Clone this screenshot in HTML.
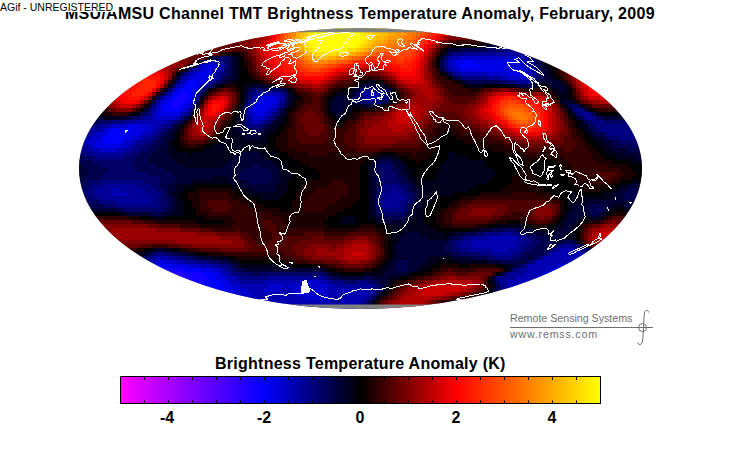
<!DOCTYPE html>
<html><head><meta charset="utf-8"><title>TMT anomaly</title>
<style>
html,body{margin:0;padding:0;background:#fff;}
body{width:730px;height:450px;position:relative;overflow:hidden;font-family:"Liberation Sans",sans-serif;}
.t{position:absolute;white-space:nowrap;line-height:1;color:#000;}
#title{left:65px;top:6px;font-weight:bold;font-size:16px;letter-spacing:0.28px;}
#wm{left:0;top:0;width:115px;height:12px;background:#fff;font-size:10.5px;letter-spacing:0px;}
#wm span{position:absolute;left:0;top:2px;}
#cbl{left:215px;top:355.5px;font-weight:bold;font-size:16px;letter-spacing:0.26px;}
.tk{font-weight:bold;font-size:16px;top:410px;width:40px;text-align:center;}
.rs{color:#6e6e6e;font-size:10.65px;left:510px;}
svg{position:absolute;left:0;top:0;}
</style></head><body>
<svg width="730" height="450" viewBox="0 0 730 450">
<defs>
<clipPath id="el"><ellipse cx="360.5" cy="168.5" rx="281.5" ry="140.5"/></clipPath>
<linearGradient id="cb" x1="0" x2="1" y1="0" y2="0">
<stop offset="0" stop-color="#ff00ff"/><stop offset="0.3" stop-color="#0000ff"/><stop offset="0.5" stop-color="#000000"/><stop offset="0.7" stop-color="#ff0000"/><stop offset="1" stop-color="#ffff00"/>
</linearGradient>
</defs>
<g clip-path="url(#el)">
<rect x="70" y="20" width="590" height="300" fill="#808080"/>
<g shape-rendering="crispEdges">
<path fill="#2200ff" d="M169 272h15v4h-15zM178 276h14v4h-14zM188 280h4v4h-4z"/>
<path fill="#1100ff" d="M180 92h8v4h-8zM176 96h12v4h-12zM172 100h12v4h-12zM172 104h8v4h-8zM160 268h24v4h-24zM184 272h20v4h-20zM192 276h16v4h-16zM192 280h12v4h-12zM199 284h5v4h-5z"/>
<path fill="#0000ff" d="M464 60h8v4h-8zM460 64h20v4h-20zM188 80h8v4h-8zM184 84h12v4h-12zM180 88h12v4h-12zM176 92h4v4h-4zM188 92h4v4h-4zM172 96h4v4h-4zM188 96h4v4h-4zM168 100h4v4h-4zM184 100h4v4h-4zM164 104h8v4h-8zM180 104h4v4h-4zM164 108h16v4h-16zM112 128h20v4h-20zM108 132h20v4h-20zM104 136h20v4h-20zM104 140h16v4h-16zM160 264h12v4h-12zM184 268h16v4h-16zM204 272h8v4h-8zM208 276h8v4h-8zM204 280h16v4h-16zM204 284h20v4h-20zM211 288h17v4h-17zM225 292h3v4h-3z"/>
<path fill="#0000e6" d="M456 60h8v4h-8zM472 60h44v4h-44zM208 64h4v4h-4zM456 64h4v4h-4zM480 64h40v4h-40zM204 68h8v4h-8zM460 68h60v4h-60zM196 72h16v4h-16zM508 72h16v4h-16zM192 76h16v4h-16zM196 80h8v4h-8zM196 84h4v4h-4zM176 88h4v4h-4zM192 88h4v4h-4zM172 92h4v4h-4zM192 92h4v4h-4zM168 96h4v4h-4zM264 96h12v4h-12zM164 100h4v4h-4zM188 100h4v4h-4zM256 100h20v4h-20zM160 104h4v4h-4zM184 104h4v4h-4zM256 104h16v4h-16zM160 108h4v4h-4zM180 108h4v4h-4zM252 108h16v4h-16zM160 112h20v4h-20zM256 112h8v4h-8zM128 124h12v4h-12zM108 128h4v4h-4zM132 128h12v4h-12zM104 132h4v4h-4zM128 132h12v4h-12zM100 136h4v4h-4zM124 136h8v4h-8zM96 140h8v4h-8zM120 140h4v4h-4zM96 144h24v4h-24zM160 260h4v4h-4zM156 264h4v4h-4zM172 264h16v4h-16zM200 268h12v4h-12zM212 272h8v4h-8zM216 276h8v4h-8zM220 280h8v4h-8zM224 284h8v4h-8zM228 288h8v4h-8zM316 288h4v4h-4zM228 292h8v4h-8z"/>
<path fill="#0000cc" d="M460 56h56v4h-56zM452 60h4v4h-4zM516 60h8v4h-8zM200 64h8v4h-8zM212 64h4v4h-4zM452 64h4v4h-4zM520 64h4v4h-4zM200 68h4v4h-4zM212 68h4v4h-4zM456 68h4v4h-4zM520 68h8v4h-8zM192 72h4v4h-4zM212 72h4v4h-4zM488 72h20v4h-20zM524 72h4v4h-4zM188 76h4v4h-4zM208 76h4v4h-4zM508 76h20v4h-20zM184 80h4v4h-4zM204 80h4v4h-4zM180 84h4v4h-4zM196 88h4v4h-4zM164 96h4v4h-4zM192 96h4v4h-4zM256 96h8v4h-8zM276 96h4v4h-4zM160 100h4v4h-4zM276 100h4v4h-4zM188 104h4v4h-4zM252 104h4v4h-4zM272 104h4v4h-4zM156 108h4v4h-4zM184 108h4v4h-4zM268 108h4v4h-4zM156 112h4v4h-4zM252 112h4v4h-4zM264 112h4v4h-4zM156 116h20v4h-20zM252 116h12v4h-12zM112 124h16v4h-16zM140 124h12v4h-12zM104 128h4v4h-4zM144 128h8v4h-8zM96 132h8v4h-8zM140 132h4v4h-4zM92 136h8v4h-8zM132 136h8v4h-8zM88 140h8v4h-8zM124 140h8v4h-8zM92 144h4v4h-4zM120 144h8v4h-8zM100 148h16v4h-16zM156 260h4v4h-4zM164 260h12v4h-12zM153 264h3v4h-3zM188 264h12v4h-12zM556 264h12v4h-12zM212 268h8v4h-8zM548 268h13v4h-13zM220 272h4v4h-4zM544 272h8v4h-8zM224 276h4v4h-4zM536 276h7v4h-7zM228 280h4v4h-4zM304 280h16v4h-16zM524 280h9v4h-9zM232 284h8v4h-8zM268 284h16v4h-16zM288 284h40v4h-40zM516 284h6v4h-6zM236 288h12v4h-12zM264 288h16v4h-16zM292 288h24v4h-24zM320 288h8v4h-8zM236 292h16v4h-16zM296 292h32v4h-32zM241 296h11v4h-11zM304 296h20v4h-20z"/>
<path fill="#0000b2" d="M508 52h4v4h-4zM452 56h8v4h-8zM516 56h8v4h-8zM208 60h8v4h-8zM448 60h4v4h-4zM524 60h4v4h-4zM216 64h4v4h-4zM448 64h4v4h-4zM524 64h4v4h-4zM196 68h4v4h-4zM216 68h4v4h-4zM452 68h4v4h-4zM528 68h4v4h-4zM188 72h4v4h-4zM460 72h28v4h-28zM528 72h4v4h-4zM184 76h4v4h-4zM212 76h4v4h-4zM500 76h8v4h-8zM528 76h4v4h-4zM180 80h4v4h-4zM208 80h4v4h-4zM176 84h4v4h-4zM200 84h4v4h-4zM172 88h4v4h-4zM168 92h4v4h-4zM260 92h20v4h-20zM368 92h8v4h-8zM280 96h4v4h-4zM372 96h4v4h-4zM192 100h4v4h-4zM252 100h4v4h-4zM156 104h4v4h-4zM276 104h4v4h-4zM248 108h4v4h-4zM272 108h4v4h-4zM152 112h4v4h-4zM180 112h4v4h-4zM248 112h4v4h-4zM268 112h4v4h-4zM152 116h4v4h-4zM176 116h4v4h-4zM264 116h4v4h-4zM136 120h32v4h-32zM252 120h8v4h-8zM108 124h4v4h-4zM152 124h8v4h-8zM100 128h4v4h-4zM152 128h4v4h-4zM92 132h4v4h-4zM144 132h8v4h-8zM84 136h8v4h-8zM140 136h4v4h-4zM84 140h4v4h-4zM132 140h4v4h-4zM88 144h4v4h-4zM128 144h4v4h-4zM92 148h8v4h-8zM116 148h8v4h-8zM112 188h8v4h-8zM112 192h16v4h-16zM488 236h28v4h-28zM472 240h44v4h-44zM472 244h44v4h-44zM492 248h16v4h-16zM560 248h16v4h-16zM552 252h32v4h-32zM156 256h12v4h-12zM544 256h38v4h-38zM152 260h4v4h-4zM176 260h8v4h-8zM536 260h40v4h-40zM200 264h12v4h-12zM528 264h28v4h-28zM220 268h4v4h-4zM528 268h20v4h-20zM224 272h4v4h-4zM524 272h20v4h-20zM228 276h8v4h-8zM516 276h20v4h-20zM232 280h8v4h-8zM264 280h40v4h-40zM320 280h8v4h-8zM508 280h16v4h-16zM240 284h28v4h-28zM284 284h4v4h-4zM328 284h8v4h-8zM508 284h8v4h-8zM248 288h16v4h-16zM280 288h12v4h-12zM328 288h40v4h-40zM508 288h2v4h-2zM252 292h44v4h-44zM328 292h40v4h-40zM252 296h52v4h-52zM324 296h8v4h-8zM340 296h24v4h-24zM260 300h72v4h-72zM340 300h20v4h-20zM288 304h44v4h-44zM340 304h16v4h-16zM325 308h7v4h-7zM340 308h16v4h-16z"/>
<path fill="#000099" d="M464 52h44v4h-44zM512 52h12v4h-12zM448 56h4v4h-4zM524 56h4v4h-4zM216 60h4v4h-4zM528 60h4v4h-4zM220 64h4v4h-4zM528 64h4v4h-4zM192 68h4v4h-4zM220 68h4v4h-4zM448 68h4v4h-4zM532 68h4v4h-4zM216 72h4v4h-4zM456 72h4v4h-4zM532 72h4v4h-4zM216 76h4v4h-4zM488 76h12v4h-12zM532 76h4v4h-4zM516 80h16v4h-16zM204 84h4v4h-4zM196 92h4v4h-4zM256 92h4v4h-4zM280 92h4v4h-4zM364 92h4v4h-4zM376 92h8v4h-8zM160 96h4v4h-4zM252 96h4v4h-4zM364 96h8v4h-8zM376 96h8v4h-8zM156 100h4v4h-4zM280 100h4v4h-4zM248 104h4v4h-4zM152 108h4v4h-4zM188 108h4v4h-4zM184 112h4v4h-4zM584 112h4v4h-4zM144 116h8v4h-8zM248 116h4v4h-4zM588 116h4v4h-4zM124 120h12v4h-12zM168 120h4v4h-4zM248 120h4v4h-4zM260 120h4v4h-4zM100 124h8v4h-8zM160 124h4v4h-4zM88 128h12v4h-12zM156 128h4v4h-4zM85 132h7v4h-7zM152 132h4v4h-4zM83 136h1v4h-1zM144 136h8v4h-8zM82 140h2v4h-2zM136 140h8v4h-8zM81 144h7v4h-7zM132 144h4v4h-4zM84 148h8v4h-8zM124 148h8v4h-8zM92 152h32v4h-32zM104 184h32v4h-32zM96 188h16v4h-16zM120 188h24v4h-24zM392 188h4v4h-4zM96 192h16v4h-16zM128 192h20v4h-20zM388 192h12v4h-12zM100 196h52v4h-52zM384 196h20v4h-20zM116 200h36v4h-36zM384 200h16v4h-16zM384 204h16v4h-16zM500 232h12v4h-12zM472 236h16v4h-16zM516 236h8v4h-8zM464 240h8v4h-8zM516 240h8v4h-8zM460 244h12v4h-12zM516 244h4v4h-4zM564 244h8v4h-8zM468 248h24v4h-24zM508 248h12v4h-12zM556 248h4v4h-4zM576 248h4v4h-4zM492 252h20v4h-20zM548 252h4v4h-4zM584 252h4v4h-4zM152 256h4v4h-4zM168 256h8v4h-8zM148 260h4v4h-4zM184 260h12v4h-12zM212 264h8v4h-8zM224 268h4v4h-4zM520 268h8v4h-8zM228 272h4v4h-4zM508 272h16v4h-16zM236 276h4v4h-4zM268 276h56v4h-56zM504 276h12v4h-12zM240 280h24v4h-24zM328 280h4v4h-4zM500 280h8v4h-8zM336 284h36v4h-36zM504 284h4v4h-4zM368 288h4v4h-4zM504 288h4v4h-4zM368 292h4v4h-4zM332 296h8v4h-8zM364 296h4v4h-4zM332 300h8v4h-8zM360 300h4v4h-4zM285 304h3v4h-3zM332 304h8v4h-8zM356 304h4v4h-4zM332 308h8v4h-8zM356 308h4v4h-4z"/>
<path fill="#000080" d="M504 48h15v4h-15zM452 52h12v4h-12zM524 52h4v4h-4zM528 56h4v4h-4zM204 60h4v4h-4zM220 60h4v4h-4zM444 60h4v4h-4zM532 60h4v4h-4zM196 64h4v4h-4zM224 64h4v4h-4zM444 64h4v4h-4zM532 64h4v4h-4zM184 72h4v4h-4zM220 72h4v4h-4zM452 72h4v4h-4zM180 76h4v4h-4zM464 76h24v4h-24zM212 80h4v4h-4zM508 80h8v4h-8zM200 88h4v4h-4zM364 88h16v4h-16zM164 92h4v4h-4zM252 92h4v4h-4zM360 92h4v4h-4zM384 92h4v4h-4zM196 96h4v4h-4zM360 96h4v4h-4zM384 96h4v4h-4zM248 100h4v4h-4zM368 100h12v4h-12zM152 104h4v4h-4zM192 104h4v4h-4zM280 104h4v4h-4zM276 108h4v4h-4zM576 108h8v4h-8zM148 112h4v4h-4zM272 112h4v4h-4zM580 112h4v4h-4zM588 112h4v4h-4zM140 116h4v4h-4zM180 116h4v4h-4zM268 116h4v4h-4zM584 116h4v4h-4zM592 116h4v4h-4zM112 120h12v4h-12zM172 120h4v4h-4zM264 120h4v4h-4zM592 120h12v4h-12zM89 124h11v4h-11zM164 124h8v4h-8zM248 124h12v4h-12zM596 124h36v4h-36zM87 128h1v4h-1zM160 128h4v4h-4zM600 128h34v4h-34zM156 132h4v4h-4zM608 132h28v4h-28zM152 136h4v4h-4zM620 136h18v4h-18zM144 140h8v4h-8zM136 144h8v4h-8zM79 148h5v4h-5zM132 148h8v4h-8zM84 152h8v4h-8zM124 152h8v4h-8zM96 156h28v4h-28zM100 180h44v4h-44zM92 184h12v4h-12zM136 184h16v4h-16zM384 184h16v4h-16zM88 188h8v4h-8zM144 188h12v4h-12zM384 188h8v4h-8zM396 188h8v4h-8zM88 192h8v4h-8zM148 192h12v4h-12zM380 192h8v4h-8zM400 192h8v4h-8zM92 196h8v4h-8zM152 196h8v4h-8zM380 196h4v4h-4zM404 196h4v4h-4zM100 200h16v4h-16zM152 200h8v4h-8zM380 200h4v4h-4zM400 200h8v4h-8zM116 204h44v4h-44zM380 204h4v4h-4zM400 204h4v4h-4zM384 208h20v4h-20zM484 232h16v4h-16zM512 232h8v4h-8zM464 236h8v4h-8zM524 236h4v4h-4zM456 240h8v4h-8zM524 240h8v4h-8zM456 244h4v4h-4zM520 244h8v4h-8zM560 244h4v4h-4zM572 244h4v4h-4zM460 248h8v4h-8zM520 248h4v4h-4zM552 248h4v4h-4zM580 248h4v4h-4zM156 252h8v4h-8zM480 252h12v4h-12zM512 252h8v4h-8zM148 256h4v4h-4zM176 256h8v4h-8zM496 256h16v4h-16zM540 256h4v4h-4zM196 260h12v4h-12zM532 260h4v4h-4zM220 264h8v4h-8zM524 264h4v4h-4zM228 268h4v4h-4zM516 268h4v4h-4zM232 272h8v4h-8zM240 276h28v4h-28zM324 276h4v4h-4zM496 276h8v4h-8zM332 280h12v4h-12zM356 280h12v4h-12zM372 284h4v4h-4zM500 284h4v4h-4zM372 288h4v4h-4zM500 288h4v4h-4zM372 292h4v4h-4zM368 296h4v4h-4zM364 300h4v4h-4zM360 304h4v4h-4zM360 308h4v4h-4z"/>
<path fill="#000066" d="M488 48h16v4h-16zM448 52h4v4h-4zM528 52h3v4h-3zM220 56h8v4h-8zM444 56h4v4h-4zM532 56h4v4h-4zM224 60h4v4h-4zM536 64h4v4h-4zM188 68h4v4h-4zM224 68h4v4h-4zM444 68h4v4h-4zM536 68h4v4h-4zM224 72h4v4h-4zM536 72h4v4h-4zM220 76h4v4h-4zM460 76h4v4h-4zM536 76h4v4h-4zM176 80h4v4h-4zM216 80h4v4h-4zM500 80h8v4h-8zM532 80h4v4h-4zM172 84h4v4h-4zM208 84h4v4h-4zM168 88h4v4h-4zM252 88h28v4h-28zM360 88h4v4h-4zM380 88h4v4h-4zM248 92h4v4h-4zM284 92h4v4h-4zM356 92h4v4h-4zM248 96h4v4h-4zM284 96h4v4h-4zM356 96h4v4h-4zM284 100h4v4h-4zM360 100h8v4h-8zM380 100h4v4h-4zM244 104h4v4h-4zM572 104h4v4h-4zM148 108h4v4h-4zM244 108h4v4h-4zM572 108h4v4h-4zM144 112h4v4h-4zM188 112h4v4h-4zM244 112h4v4h-4zM276 112h4v4h-4zM576 112h4v4h-4zM132 116h8v4h-8zM244 116h4v4h-4zM272 116h4v4h-4zM596 116h4v4h-4zM100 120h12v4h-12zM176 120h4v4h-4zM244 120h4v4h-4zM268 120h4v4h-4zM588 120h4v4h-4zM604 120h25v4h-25zM244 124h4v4h-4zM260 124h4v4h-4zM592 124h4v4h-4zM164 128h4v4h-4zM252 128h8v4h-8zM596 128h4v4h-4zM160 132h4v4h-4zM604 132h4v4h-4zM156 136h4v4h-4zM608 136h12v4h-12zM152 140h4v4h-4zM620 140h19v4h-19zM144 144h8v4h-8zM632 144h8v4h-8zM140 148h8v4h-8zM79 152h5v4h-5zM132 152h8v4h-8zM84 156h12v4h-12zM124 156h12v4h-12zM92 160h40v4h-40zM100 164h32v4h-32zM380 164h12v4h-12zM108 168h28v4h-28zM380 168h12v4h-12zM104 172h44v4h-44zM380 172h16v4h-16zM100 176h60v4h-60zM380 176h16v4h-16zM88 180h12v4h-12zM144 180h16v4h-16zM380 180h20v4h-20zM84 184h8v4h-8zM152 184h8v4h-8zM380 184h4v4h-4zM400 184h8v4h-8zM80 188h8v4h-8zM156 188h8v4h-8zM380 188h4v4h-4zM404 188h4v4h-4zM81 192h7v4h-7zM160 192h4v4h-4zM408 192h4v4h-4zM84 196h8v4h-8zM160 196h4v4h-4zM376 196h4v4h-4zM408 196h4v4h-4zM88 200h12v4h-12zM160 200h8v4h-8zM376 200h4v4h-4zM408 200h4v4h-4zM104 204h12v4h-12zM160 204h8v4h-8zM376 204h4v4h-4zM404 204h4v4h-4zM124 208h40v4h-40zM380 208h4v4h-4zM404 208h4v4h-4zM596 208h4v4h-4zM384 212h20v4h-20zM504 228h12v4h-12zM476 232h8v4h-8zM520 232h8v4h-8zM460 236h4v4h-4zM528 236h8v4h-8zM452 240h4v4h-4zM532 240h8v4h-8zM452 244h4v4h-4zM528 244h8v4h-8zM556 244h4v4h-4zM576 244h4v4h-4zM452 248h8v4h-8zM524 248h8v4h-8zM584 248h4v4h-4zM152 252h4v4h-4zM164 252h8v4h-8zM460 252h20v4h-20zM520 252h4v4h-4zM544 252h4v4h-4zM144 256h4v4h-4zM184 256h8v4h-8zM488 256h8v4h-8zM512 256h8v4h-8zM536 256h4v4h-4zM145 260h3v4h-3zM208 260h12v4h-12zM528 260h4v4h-4zM228 264h4v4h-4zM520 264h4v4h-4zM232 268h4v4h-4zM512 268h4v4h-4zM240 272h12v4h-12zM260 272h64v4h-64zM504 272h4v4h-4zM328 276h4v4h-4zM344 280h12v4h-12zM368 280h8v4h-8zM496 280h4v4h-4zM376 284h4v4h-4zM376 288h4v4h-4zM364 304h4v4h-4zM364 308h4v4h-4z"/>
<path fill="#00004c" d="M496 44h11v4h-11zM460 48h28v4h-28zM216 56h4v4h-4zM228 56h4v4h-4zM228 60h4v4h-4zM440 60h4v4h-4zM536 60h4v4h-4zM228 64h4v4h-4zM440 64h4v4h-4zM228 68h4v4h-4zM540 68h4v4h-4zM180 72h4v4h-4zM228 72h4v4h-4zM448 72h4v4h-4zM540 72h4v4h-4zM224 76h4v4h-4zM456 76h4v4h-4zM540 76h4v4h-4zM220 80h4v4h-4zM468 80h32v4h-32zM536 80h4v4h-4zM212 84h4v4h-4zM364 84h16v4h-16zM520 84h12v4h-12zM204 88h4v4h-4zM248 88h4v4h-4zM280 88h4v4h-4zM384 88h4v4h-4zM200 92h4v4h-4zM388 92h4v4h-4zM156 96h4v4h-4zM352 96h4v4h-4zM388 96h4v4h-4zM152 100h4v4h-4zM196 100h4v4h-4zM244 100h4v4h-4zM356 100h4v4h-4zM384 100h4v4h-4zM284 104h4v4h-4zM568 104h4v4h-4zM576 104h4v4h-4zM192 108h4v4h-4zM280 108h4v4h-4zM584 108h4v4h-4zM140 112h4v4h-4zM592 112h4v4h-4zM128 116h4v4h-4zM184 116h4v4h-4zM580 116h4v4h-4zM600 116h4v4h-4zM92 120h8v4h-8zM180 120h4v4h-4zM584 120h4v4h-4zM172 124h4v4h-4zM264 124h4v4h-4zM588 124h4v4h-4zM168 128h4v4h-4zM244 128h8v4h-8zM260 128h4v4h-4zM592 128h4v4h-4zM164 132h4v4h-4zM252 132h4v4h-4zM596 132h8v4h-8zM160 136h4v4h-4zM604 136h4v4h-4zM156 140h8v4h-8zM612 140h8v4h-8zM152 144h8v4h-8zM616 144h16v4h-16zM148 148h8v4h-8zM628 148h14v4h-14zM140 152h12v4h-12zM78 156h6v4h-6zM136 156h12v4h-12zM78 160h14v4h-14zM132 160h16v4h-16zM380 160h12v4h-12zM84 164h16v4h-16zM132 164h24v4h-24zM252 164h8v4h-8zM376 164h4v4h-4zM392 164h4v4h-4zM88 168h20v4h-20zM136 168h28v4h-28zM244 168h24v4h-24zM376 168h4v4h-4zM392 168h8v4h-8zM88 172h16v4h-16zM148 172h24v4h-24zM240 172h32v4h-32zM376 172h4v4h-4zM396 172h4v4h-4zM84 176h16v4h-16zM160 176h16v4h-16zM240 176h32v4h-32zM376 176h4v4h-4zM396 176h8v4h-8zM78 180h10v4h-10zM160 180h12v4h-12zM248 180h20v4h-20zM376 180h4v4h-4zM400 180h8v4h-8zM79 184h5v4h-5zM160 184h8v4h-8zM376 184h4v4h-4zM408 184h4v4h-4zM164 188h4v4h-4zM376 188h4v4h-4zM408 188h4v4h-4zM628 188h13v4h-13zM164 192h4v4h-4zM376 192h4v4h-4zM412 192h4v4h-4zM624 192h16v4h-16zM83 196h1v4h-1zM164 196h8v4h-8zM412 196h4v4h-4zM624 196h14v4h-14zM85 200h3v4h-3zM168 200h4v4h-4zM412 200h4v4h-4zM87 204h17v4h-17zM168 204h4v4h-4zM408 204h4v4h-4zM592 204h12v4h-12zM116 208h8v4h-8zM164 208h4v4h-4zM376 208h4v4h-4zM408 208h4v4h-4zM588 208h8v4h-8zM600 208h4v4h-4zM152 212h8v4h-8zM376 212h8v4h-8zM404 212h4v4h-4zM592 212h8v4h-8zM384 216h20v4h-20zM492 228h12v4h-12zM516 228h8v4h-8zM464 232h12v4h-12zM528 232h8v4h-8zM452 236h8v4h-8zM536 236h12v4h-12zM448 240h4v4h-4zM540 240h12v4h-12zM560 240h16v4h-16zM444 244h8v4h-8zM536 244h20v4h-20zM580 244h4v4h-4zM444 248h8v4h-8zM532 248h20v4h-20zM588 248h4v4h-4zM148 252h4v4h-4zM172 252h8v4h-8zM452 252h8v4h-8zM524 252h20v4h-20zM140 256h4v4h-4zM192 256h8v4h-8zM472 256h16v4h-16zM520 256h8v4h-8zM532 256h4v4h-4zM220 260h8v4h-8zM400 260h8v4h-8zM500 260h20v4h-20zM524 260h4v4h-4zM232 264h4v4h-4zM396 264h12v4h-12zM516 264h4v4h-4zM236 268h8v4h-8zM396 268h12v4h-12zM252 272h8v4h-8zM324 272h4v4h-4zM332 276h8v4h-8zM364 276h8v4h-8zM376 280h4v4h-4zM380 284h4v4h-4zM496 284h4v4h-4zM380 288h4v4h-4zM496 288h4v4h-4zM376 292h4v4h-4zM372 296h4v4h-4zM368 300h4v4h-4zM368 304h4v4h-4zM368 308h4v4h-4z"/>
<path fill="#000033" d="M488 44h8v4h-8zM448 48h12v4h-12zM444 52h4v4h-4zM212 56h4v4h-4zM232 56h4v4h-4zM440 56h4v4h-4zM536 56h4v4h-4zM200 60h4v4h-4zM232 60h4v4h-4zM540 60h4v4h-4zM192 64h4v4h-4zM232 64h4v4h-4zM540 64h4v4h-4zM232 68h4v4h-4zM440 68h4v4h-4zM544 68h4v4h-4zM232 72h4v4h-4zM544 72h4v4h-4zM176 76h4v4h-4zM228 76h8v4h-8zM452 76h4v4h-4zM544 76h8v4h-8zM224 80h4v4h-4zM464 80h4v4h-4zM540 80h20v4h-20zM252 84h12v4h-12zM360 84h4v4h-4zM380 84h4v4h-4zM516 84h4v4h-4zM532 84h4v4h-4zM552 84h12v4h-12zM284 88h4v4h-4zM356 88h4v4h-4zM388 88h4v4h-4zM560 88h4v4h-4zM160 92h4v4h-4zM244 92h4v4h-4zM288 92h4v4h-4zM352 92h4v4h-4zM244 96h4v4h-4zM288 96h4v4h-4zM336 96h16v4h-16zM288 100h4v4h-4zM332 100h24v4h-24zM564 100h8v4h-8zM148 104h4v4h-4zM332 104h16v4h-16zM364 104h16v4h-16zM144 108h4v4h-4zM240 108h4v4h-4zM332 108h12v4h-12zM240 112h4v4h-4zM280 112h4v4h-4zM336 112h4v4h-4zM572 112h4v4h-4zM95 116h9v4h-9zM120 116h8v4h-8zM240 116h4v4h-4zM276 116h4v4h-4zM576 116h4v4h-4zM604 116h22v4h-22zM240 120h4v4h-4zM272 120h4v4h-4zM176 124h4v4h-4zM240 124h4v4h-4zM268 124h4v4h-4zM172 128h4v4h-4zM236 128h8v4h-8zM264 128h4v4h-4zM588 128h4v4h-4zM168 132h4v4h-4zM240 132h12v4h-12zM256 132h8v4h-8zM592 132h4v4h-4zM164 136h8v4h-8zM244 136h16v4h-16zM596 136h8v4h-8zM164 140h4v4h-4zM604 140h8v4h-8zM160 144h8v4h-8zM608 144h8v4h-8zM156 148h12v4h-12zM612 148h16v4h-16zM152 152h16v4h-16zM240 152h20v4h-20zM624 152h18v4h-18zM148 156h24v4h-24zM232 156h32v4h-32zM380 156h12v4h-12zM636 156h7v4h-7zM148 160h28v4h-28zM228 160h44v4h-44zM376 160h4v4h-4zM392 160h8v4h-8zM78 164h6v4h-6zM156 164h28v4h-28zM224 164h28v4h-28zM260 164h16v4h-16zM372 164h4v4h-4zM396 164h8v4h-8zM78 168h10v4h-10zM164 168h80v4h-80zM268 168h12v4h-12zM372 168h4v4h-4zM400 168h4v4h-4zM78 172h10v4h-10zM172 172h68v4h-68zM272 172h8v4h-8zM372 172h4v4h-4zM400 172h8v4h-8zM78 176h6v4h-6zM176 176h36v4h-36zM228 176h12v4h-12zM272 176h8v4h-8zM372 176h4v4h-4zM404 176h4v4h-4zM172 180h20v4h-20zM232 180h16v4h-16zM268 180h12v4h-12zM372 180h4v4h-4zM408 180h4v4h-4zM168 184h8v4h-8zM240 184h36v4h-36zM372 184h4v4h-4zM412 184h4v4h-4zM628 184h14v4h-14zM168 188h8v4h-8zM252 188h24v4h-24zM372 188h4v4h-4zM412 188h8v4h-8zM620 188h8v4h-8zM168 192h4v4h-4zM372 192h4v4h-4zM416 192h4v4h-4zM616 192h8v4h-8zM172 196h4v4h-4zM372 196h4v4h-4zM416 196h4v4h-4zM612 196h12v4h-12zM172 200h4v4h-4zM372 200h4v4h-4zM416 200h4v4h-4zM588 200h48v4h-48zM172 204h4v4h-4zM372 204h4v4h-4zM412 204h8v4h-8zM572 204h20v4h-20zM604 204h8v4h-8zM624 204h10v4h-10zM92 208h24v4h-24zM168 208h8v4h-8zM372 208h4v4h-4zM412 208h4v4h-4zM572 208h16v4h-16zM604 208h4v4h-4zM128 212h24v4h-24zM160 212h12v4h-12zM372 212h4v4h-4zM408 212h8v4h-8zM568 212h24v4h-24zM600 212h4v4h-4zM376 216h8v4h-8zM404 216h8v4h-8zM568 216h12v4h-12zM592 216h4v4h-4zM384 220h24v4h-24zM564 220h12v4h-12zM564 224h8v4h-8zM480 228h12v4h-12zM524 228h8v4h-8zM556 228h16v4h-16zM404 232h16v4h-16zM456 232h8v4h-8zM536 232h32v4h-32zM400 236h28v4h-28zM448 236h4v4h-4zM548 236h20v4h-20zM400 240h48v4h-48zM552 240h8v4h-8zM396 244h48v4h-48zM156 248h8v4h-8zM396 248h48v4h-48zM144 252h4v4h-4zM180 252h8v4h-8zM396 252h56v4h-56zM139 256h1v4h-1zM200 256h12v4h-12zM396 256h32v4h-32zM452 256h20v4h-20zM528 256h4v4h-4zM228 260h4v4h-4zM392 260h8v4h-8zM408 260h16v4h-16zM488 260h12v4h-12zM520 260h4v4h-4zM236 264h4v4h-4zM392 264h4v4h-4zM408 264h12v4h-12zM512 264h4v4h-4zM244 268h80v4h-80zM388 268h8v4h-8zM408 268h8v4h-8zM508 268h4v4h-4zM328 272h4v4h-4zM384 272h24v4h-24zM500 272h4v4h-4zM340 276h24v4h-24zM372 276h16v4h-16zM492 276h4v4h-4zM380 280h8v4h-8zM492 280h4v4h-4zM384 284h4v4h-4zM492 288h4v4h-4zM492 292h4v4h-4z"/>
<path fill="#00001a" d="M480 44h8v4h-8zM236 56h4v4h-4zM540 56h1v4h-1zM236 60h4v4h-4zM236 64h4v4h-4zM544 64h4v4h-4zM184 68h4v4h-4zM236 68h4v4h-4zM548 68h4v4h-4zM236 72h4v4h-4zM444 72h4v4h-4zM548 72h4v4h-4zM236 76h4v4h-4zM552 76h4v4h-4zM172 80h4v4h-4zM228 80h8v4h-8zM368 80h8v4h-8zM460 80h4v4h-4zM560 80h4v4h-4zM168 84h4v4h-4zM216 84h4v4h-4zM244 84h8v4h-8zM264 84h8v4h-8zM356 84h4v4h-4zM384 84h4v4h-4zM468 84h16v4h-16zM508 84h8v4h-8zM536 84h4v4h-4zM548 84h4v4h-4zM564 84h4v4h-4zM164 88h4v4h-4zM208 88h4v4h-4zM244 88h4v4h-4zM352 88h4v4h-4zM552 88h8v4h-8zM564 88h4v4h-4zM336 92h16v4h-16zM392 92h4v4h-4zM556 92h12v4h-12zM200 96h4v4h-4zM292 96h4v4h-4zM332 96h4v4h-4zM392 96h4v4h-4zM560 96h8v4h-8zM328 100h4v4h-4zM388 100h4v4h-4zM560 100h4v4h-4zM572 100h4v4h-4zM196 104h4v4h-4zM240 104h4v4h-4zM288 104h4v4h-4zM328 104h4v4h-4zM348 104h16v4h-16zM380 104h4v4h-4zM564 104h4v4h-4zM580 104h4v4h-4zM284 108h4v4h-4zM328 108h4v4h-4zM344 108h8v4h-8zM568 108h4v4h-4zM588 108h4v4h-4zM98 112h2v4h-2zM136 112h4v4h-4zM192 112h4v4h-4zM284 112h4v4h-4zM332 112h4v4h-4zM340 112h8v4h-8zM596 112h4v4h-4zM620 112h3v4h-3zM104 116h16v4h-16zM188 116h4v4h-4zM236 116h4v4h-4zM280 116h4v4h-4zM336 116h8v4h-8zM184 120h4v4h-4zM236 120h4v4h-4zM276 120h8v4h-8zM580 120h4v4h-4zM232 124h8v4h-8zM272 124h8v4h-8zM580 124h8v4h-8zM176 128h4v4h-4zM228 128h8v4h-8zM268 128h8v4h-8zM584 128h4v4h-4zM172 132h4v4h-4zM228 132h12v4h-12zM264 132h8v4h-8zM588 132h4v4h-4zM172 136h4v4h-4zM224 136h20v4h-20zM260 136h8v4h-8zM592 136h4v4h-4zM168 140h4v4h-4zM220 140h48v4h-48zM596 140h8v4h-8zM168 144h4v4h-4zM212 144h52v4h-52zM600 144h8v4h-8zM168 148h8v4h-8zM204 148h64v4h-64zM604 148h8v4h-8zM168 152h20v4h-20zM192 152h48v4h-48zM260 152h16v4h-16zM448 152h8v4h-8zM608 152h16v4h-16zM172 156h60v4h-60zM264 156h16v4h-16zM376 156h4v4h-4zM392 156h8v4h-8zM448 156h20v4h-20zM616 156h20v4h-20zM176 160h52v4h-52zM272 160h12v4h-12zM372 160h4v4h-4zM400 160h4v4h-4zM444 160h40v4h-40zM632 160h11v4h-11zM184 164h40v4h-40zM276 164h12v4h-12zM368 164h4v4h-4zM404 164h4v4h-4zM440 164h48v4h-48zM280 168h8v4h-8zM368 168h4v4h-4zM404 168h8v4h-8zM440 168h52v4h-52zM280 172h12v4h-12zM368 172h4v4h-4zM408 172h4v4h-4zM436 172h60v4h-60zM212 176h16v4h-16zM280 176h12v4h-12zM368 176h4v4h-4zM408 176h8v4h-8zM436 176h56v4h-56zM192 180h40v4h-40zM280 180h8v4h-8zM368 180h4v4h-4zM412 180h76v4h-76zM632 180h11v4h-11zM176 184h16v4h-16zM232 184h8v4h-8zM276 184h12v4h-12zM368 184h4v4h-4zM416 184h60v4h-60zM620 184h8v4h-8zM176 188h8v4h-8zM240 188h12v4h-12zM276 188h12v4h-12zM368 188h4v4h-4zM420 188h48v4h-48zM612 188h8v4h-8zM172 192h8v4h-8zM248 192h36v4h-36zM368 192h4v4h-4zM420 192h32v4h-32zM568 192h8v4h-8zM604 192h12v4h-12zM176 196h4v4h-4zM260 196h20v4h-20zM368 196h4v4h-4zM420 196h16v4h-16zM568 196h44v4h-44zM176 200h8v4h-8zM368 200h4v4h-4zM420 200h12v4h-12zM568 200h20v4h-20zM176 204h8v4h-8zM368 204h4v4h-4zM420 204h8v4h-8zM568 204h4v4h-4zM612 204h12v4h-12zM89 208h3v4h-3zM176 208h8v4h-8zM368 208h4v4h-4zM416 208h8v4h-8zM568 208h4v4h-4zM608 208h8v4h-8zM624 208h8v4h-8zM120 212h8v4h-8zM172 212h12v4h-12zM368 212h4v4h-4zM416 212h8v4h-8zM564 212h4v4h-4zM604 212h4v4h-4zM152 216h16v4h-16zM344 216h12v4h-12zM368 216h8v4h-8zM412 216h12v4h-12zM564 216h4v4h-4zM580 216h12v4h-12zM596 216h8v4h-8zM340 220h16v4h-16zM376 220h8v4h-8zM408 220h16v4h-16zM560 220h4v4h-4zM576 220h4v4h-4zM388 224h40v4h-40zM496 224h28v4h-28zM556 224h8v4h-8zM572 224h8v4h-8zM392 228h44v4h-44zM472 228h8v4h-8zM532 228h24v4h-24zM572 228h4v4h-4zM392 232h12v4h-12zM420 232h24v4h-24zM448 232h8v4h-8zM568 232h8v4h-8zM392 236h8v4h-8zM428 236h20v4h-20zM568 236h8v4h-8zM392 240h8v4h-8zM576 240h4v4h-4zM392 244h4v4h-4zM584 244h4v4h-4zM152 248h4v4h-4zM164 248h8v4h-8zM392 248h4v4h-4zM592 248h2v4h-2zM136 252h8v4h-8zM188 252h8v4h-8zM392 252h4v4h-4zM212 256h16v4h-16zM392 256h4v4h-4zM428 256h24v4h-24zM232 260h8v4h-8zM388 260h4v4h-4zM424 260h12v4h-12zM456 260h32v4h-32zM240 264h52v4h-52zM384 264h8v4h-8zM420 264h12v4h-12zM504 264h8v4h-8zM324 268h4v4h-4zM380 268h8v4h-8zM416 268h8v4h-8zM332 272h8v4h-8zM364 272h20v4h-20zM408 272h4v4h-4zM388 276h12v4h-12zM388 280h4v4h-4zM492 284h4v4h-4zM384 288h4v4h-4zM380 292h4v4h-4zM488 292h4v4h-4zM376 296h4v4h-4zM372 300h4v4h-4z"/>
<path fill="#000000" d="M488 40h4v4h-4zM452 44h28v4h-28zM444 48h4v4h-4zM228 52h12v4h-12zM440 52h4v4h-4zM208 56h4v4h-4zM240 56h4v4h-4zM436 56h4v4h-4zM240 60h4v4h-4zM436 60h4v4h-4zM544 60h4v4h-4zM240 64h4v4h-4zM436 64h4v4h-4zM548 64h4v4h-4zM240 68h8v4h-8zM552 68h4v4h-4zM176 72h4v4h-4zM240 72h8v4h-8zM440 72h4v4h-4zM552 72h4v4h-4zM240 76h12v4h-12zM448 76h4v4h-4zM556 76h4v4h-4zM236 80h24v4h-24zM360 80h8v4h-8zM376 80h8v4h-8zM456 80h4v4h-4zM220 84h4v4h-4zM236 84h8v4h-8zM272 84h8v4h-8zM464 84h4v4h-4zM484 84h24v4h-24zM540 84h8v4h-8zM240 88h4v4h-4zM288 88h4v4h-4zM340 88h12v4h-12zM392 88h4v4h-4zM568 88h4v4h-4zM204 92h4v4h-4zM240 92h4v4h-4zM292 92h4v4h-4zM332 92h4v4h-4zM396 92h4v4h-4zM568 92h4v4h-4zM240 96h4v4h-4zM296 96h4v4h-4zM328 96h4v4h-4zM396 96h4v4h-4zM556 96h4v4h-4zM568 96h4v4h-4zM240 100h4v4h-4zM292 100h4v4h-4zM292 104h4v4h-4zM384 104h4v4h-4zM140 108h4v4h-4zM236 108h4v4h-4zM288 108h4v4h-4zM352 108h8v4h-8zM592 108h4v4h-4zM100 112h4v4h-4zM132 112h4v4h-4zM236 112h4v4h-4zM328 112h4v4h-4zM348 112h4v4h-4zM568 112h4v4h-4zM600 112h20v4h-20zM232 116h4v4h-4zM284 116h4v4h-4zM332 116h4v4h-4zM344 116h4v4h-4zM572 116h4v4h-4zM232 120h4v4h-4zM284 120h4v4h-4zM336 120h8v4h-8zM576 120h4v4h-4zM180 124h4v4h-4zM228 124h4v4h-4zM280 124h4v4h-4zM576 124h4v4h-4zM224 128h4v4h-4zM276 128h8v4h-8zM580 128h4v4h-4zM176 132h4v4h-4zM220 132h8v4h-8zM272 132h8v4h-8zM444 132h8v4h-8zM584 132h4v4h-4zM176 136h4v4h-4zM220 136h4v4h-4zM268 136h8v4h-8zM440 136h16v4h-16zM584 136h8v4h-8zM172 140h8v4h-8zM212 140h8v4h-8zM268 140h8v4h-8zM440 140h24v4h-24zM588 140h8v4h-8zM172 144h8v4h-8zM204 144h8v4h-8zM264 144h12v4h-12zM436 144h40v4h-40zM592 144h8v4h-8zM176 148h28v4h-28zM268 148h12v4h-12zM436 148h56v4h-56zM596 148h8v4h-8zM188 152h4v4h-4zM276 152h12v4h-12zM380 152h16v4h-16zM432 152h16v4h-16zM456 152h48v4h-48zM600 152h8v4h-8zM280 156h12v4h-12zM368 156h8v4h-8zM400 156h8v4h-8zM428 156h20v4h-20zM468 156h48v4h-48zM604 156h12v4h-12zM284 160h16v4h-16zM364 160h8v4h-8zM404 160h12v4h-12zM420 160h24v4h-24zM484 160h40v4h-40zM532 160h24v4h-24zM612 160h20v4h-20zM288 164h20v4h-20zM360 164h8v4h-8zM408 164h32v4h-32zM488 164h36v4h-36zM528 164h32v4h-32zM628 164h15v4h-15zM288 168h28v4h-28zM360 168h8v4h-8zM412 168h28v4h-28zM492 168h28v4h-28zM532 168h28v4h-28zM632 168h11v4h-11zM292 172h28v4h-28zM360 172h8v4h-8zM412 172h24v4h-24zM496 172h20v4h-20zM536 172h28v4h-28zM636 172h7v4h-7zM292 176h28v4h-28zM360 176h8v4h-8zM416 176h20v4h-20zM492 176h20v4h-20zM536 176h32v4h-32zM632 176h11v4h-11zM288 180h20v4h-20zM360 180h8v4h-8zM488 180h24v4h-24zM540 180h32v4h-32zM620 180h12v4h-12zM192 184h40v4h-40zM288 184h16v4h-16zM360 184h8v4h-8zM476 184h32v4h-32zM540 184h36v4h-36zM612 184h8v4h-8zM184 188h12v4h-12zM232 188h8v4h-8zM288 188h12v4h-12zM360 188h8v4h-8zM468 188h32v4h-32zM544 188h40v4h-40zM600 188h12v4h-12zM180 192h8v4h-8zM236 192h12v4h-12zM284 192h12v4h-12zM360 192h8v4h-8zM452 192h28v4h-28zM552 192h16v4h-16zM576 192h28v4h-28zM180 196h8v4h-8zM244 196h16v4h-16zM280 196h16v4h-16zM360 196h8v4h-8zM436 196h24v4h-24zM560 196h8v4h-8zM184 200h8v4h-8zM256 200h36v4h-36zM356 200h12v4h-12zM432 200h20v4h-20zM564 200h4v4h-4zM184 204h8v4h-8zM264 204h28v4h-28zM352 204h16v4h-16zM428 204h20v4h-20zM564 204h4v4h-4zM184 208h12v4h-12zM280 208h12v4h-12zM344 208h24v4h-24zM424 208h16v4h-16zM564 208h4v4h-4zM616 208h8v4h-8zM91 212h29v4h-29zM184 212h12v4h-12zM336 212h32v4h-32zM424 212h12v4h-12zM608 212h4v4h-4zM140 216h12v4h-12zM168 216h36v4h-36zM328 216h16v4h-16zM356 216h12v4h-12zM424 216h12v4h-12zM560 216h4v4h-4zM196 220h28v4h-28zM324 220h16v4h-16zM356 220h20v4h-20zM424 220h12v4h-12zM508 220h12v4h-12zM556 220h4v4h-4zM580 220h8v4h-8zM328 224h32v4h-32zM376 224h12v4h-12zM428 224h12v4h-12zM488 224h8v4h-8zM524 224h8v4h-8zM548 224h8v4h-8zM384 228h8v4h-8zM436 228h36v4h-36zM576 228h4v4h-4zM388 232h4v4h-4zM444 232h4v4h-4zM576 232h4v4h-4zM388 236h4v4h-4zM576 236h4v4h-4zM388 240h4v4h-4zM388 244h4v4h-4zM144 248h8v4h-8zM172 248h8v4h-8zM388 248h4v4h-4zM133 252h3v4h-3zM196 252h12v4h-12zM388 252h4v4h-4zM228 256h8v4h-8zM388 256h4v4h-4zM240 260h44v4h-44zM384 260h4v4h-4zM436 260h20v4h-20zM292 264h24v4h-24zM380 264h4v4h-4zM432 264h8v4h-8zM460 264h8v4h-8zM496 264h8v4h-8zM328 268h8v4h-8zM372 268h8v4h-8zM424 268h8v4h-8zM504 268h4v4h-4zM340 272h24v4h-24zM412 272h12v4h-12zM496 272h4v4h-4zM400 276h8v4h-8zM392 280h4v4h-4zM488 280h4v4h-4zM388 284h4v4h-4zM388 288h4v4h-4zM488 288h4v4h-4zM384 292h4v4h-4zM484 292h4v4h-4zM452 300h9v4h-9zM372 304h4v4h-4zM372 308h4v4h-4z"/>
<path fill="#1a0000" d="M480 40h8v4h-8zM448 44h4v4h-4zM440 48h4v4h-4zM220 52h8v4h-8zM240 52h4v4h-4zM196 60h4v4h-4zM244 60h4v4h-4zM548 60h2v4h-2zM188 64h4v4h-4zM244 64h4v4h-4zM552 64h4v4h-4zM180 68h4v4h-4zM436 68h4v4h-4zM556 68h4v4h-4zM248 72h4v4h-4zM556 72h4v4h-4zM172 76h4v4h-4zM252 76h4v4h-4zM368 76h4v4h-4zM444 76h4v4h-4zM560 76h4v4h-4zM260 80h4v4h-4zM356 80h4v4h-4zM452 80h4v4h-4zM564 80h4v4h-4zM224 84h12v4h-12zM280 84h4v4h-4zM348 84h8v4h-8zM388 84h4v4h-4zM460 84h4v4h-4zM568 84h4v4h-4zM212 88h4v4h-4zM236 88h4v4h-4zM292 88h4v4h-4zM332 88h8v4h-8zM468 88h12v4h-12zM524 88h8v4h-8zM548 88h4v4h-4zM156 92h4v4h-4zM296 92h4v4h-4zM328 92h4v4h-4zM552 92h4v4h-4zM152 96h4v4h-4zM300 96h4v4h-4zM324 96h4v4h-4zM572 96h4v4h-4zM148 100h4v4h-4zM200 100h4v4h-4zM296 100h8v4h-8zM324 100h4v4h-4zM392 100h4v4h-4zM576 100h4v4h-4zM144 104h4v4h-4zM236 104h4v4h-4zM296 104h4v4h-4zM324 104h4v4h-4zM560 104h4v4h-4zM584 104h4v4h-4zM101 108h3v4h-3zM196 108h4v4h-4zM292 108h4v4h-4zM324 108h4v4h-4zM360 108h16v4h-16zM564 108h4v4h-4zM596 108h4v4h-4zM104 112h8v4h-8zM128 112h4v4h-4zM232 112h4v4h-4zM288 112h4v4h-4zM324 112h4v4h-4zM352 112h8v4h-8zM288 116h4v4h-4zM328 116h4v4h-4zM348 116h8v4h-8zM568 116h4v4h-4zM228 120h4v4h-4zM288 120h4v4h-4zM328 120h8v4h-8zM344 120h4v4h-4zM572 120h4v4h-4zM224 124h4v4h-4zM284 124h8v4h-8zM332 124h12v4h-12zM440 124h12v4h-12zM572 124h4v4h-4zM180 128h4v4h-4zM220 128h4v4h-4zM284 128h4v4h-4zM436 128h20v4h-20zM576 128h4v4h-4zM180 132h4v4h-4zM280 132h8v4h-8zM436 132h8v4h-8zM452 132h8v4h-8zM576 132h8v4h-8zM216 136h4v4h-4zM276 136h12v4h-12zM432 136h8v4h-8zM456 136h16v4h-16zM580 136h4v4h-4zM180 140h4v4h-4zM208 140h4v4h-4zM276 140h12v4h-12zM432 140h8v4h-8zM464 140h24v4h-24zM584 140h4v4h-4zM180 144h8v4h-8zM196 144h8v4h-8zM276 144h12v4h-12zM428 144h8v4h-8zM476 144h28v4h-28zM584 144h8v4h-8zM280 148h16v4h-16zM424 148h12v4h-12zM492 148h20v4h-20zM588 148h8v4h-8zM288 152h20v4h-20zM328 152h16v4h-16zM372 152h8v4h-8zM396 152h16v4h-16zM416 152h16v4h-16zM504 152h20v4h-20zM540 152h8v4h-8zM592 152h8v4h-8zM292 156h76v4h-76zM408 156h20v4h-20zM516 156h48v4h-48zM592 156h12v4h-12zM300 160h64v4h-64zM416 160h4v4h-4zM524 160h8v4h-8zM556 160h12v4h-12zM596 160h16v4h-16zM308 164h52v4h-52zM524 164h4v4h-4zM560 164h12v4h-12zM608 164h20v4h-20zM316 168h44v4h-44zM520 168h12v4h-12zM560 168h12v4h-12zM620 168h12v4h-12zM320 172h40v4h-40zM516 172h20v4h-20zM564 172h12v4h-12zM624 172h12v4h-12zM320 176h40v4h-40zM512 176h24v4h-24zM568 176h12v4h-12zM620 176h12v4h-12zM308 180h24v4h-24zM344 180h16v4h-16zM512 180h28v4h-28zM572 180h16v4h-16zM612 180h8v4h-8zM304 184h24v4h-24zM348 184h12v4h-12zM508 184h32v4h-32zM576 184h36v4h-36zM196 188h36v4h-36zM300 188h16v4h-16zM348 188h12v4h-12zM500 188h44v4h-44zM584 188h16v4h-16zM188 192h12v4h-12zM228 192h8v4h-8zM296 192h16v4h-16zM348 192h12v4h-12zM480 192h32v4h-32zM536 192h16v4h-16zM188 196h12v4h-12zM232 196h12v4h-12zM296 196h12v4h-12zM340 196h20v4h-20zM460 196h16v4h-16zM552 196h8v4h-8zM192 200h8v4h-8zM240 200h16v4h-16zM292 200h12v4h-12zM336 200h20v4h-20zM452 200h8v4h-8zM560 200h4v4h-4zM192 204h8v4h-8zM248 204h16v4h-16zM292 204h12v4h-12zM328 204h24v4h-24zM448 204h8v4h-8zM560 204h4v4h-4zM196 208h4v4h-4zM256 208h24v4h-24zM292 208h12v4h-12zM324 208h20v4h-20zM440 208h8v4h-8zM560 208h4v4h-4zM196 212h12v4h-12zM272 212h64v4h-64zM436 212h8v4h-8zM560 212h4v4h-4zM612 212h18v4h-18zM128 216h12v4h-12zM204 216h28v4h-28zM280 216h48v4h-48zM436 216h8v4h-8zM556 216h4v4h-4zM604 216h4v4h-4zM156 220h40v4h-40zM224 220h12v4h-12zM284 220h40v4h-40zM436 220h8v4h-8zM496 220h12v4h-12zM520 220h8v4h-8zM552 220h4v4h-4zM588 220h12v4h-12zM200 224h32v4h-32zM288 224h40v4h-40zM360 224h16v4h-16zM440 224h12v4h-12zM476 224h12v4h-12zM532 224h16v4h-16zM580 224h4v4h-4zM324 228h32v4h-32zM376 228h8v4h-8zM580 228h4v4h-4zM380 232h8v4h-8zM384 236h4v4h-4zM384 240h4v4h-4zM580 240h4v4h-4zM384 244h4v4h-4zM588 244h4v4h-4zM136 248h8v4h-8zM180 248h8v4h-8zM384 248h4v4h-4zM208 252h16v4h-16zM384 252h4v4h-4zM236 256h44v4h-44zM384 256h4v4h-4zM284 260h12v4h-12zM380 260h4v4h-4zM316 264h12v4h-12zM376 264h4v4h-4zM440 264h20v4h-20zM468 264h28v4h-28zM336 268h8v4h-8zM364 268h8v4h-8zM432 268h8v4h-8zM424 272h8v4h-8zM408 276h8v4h-8zM488 276h4v4h-4zM396 280h8v4h-8zM392 284h4v4h-4zM488 284h4v4h-4zM484 288h4v4h-4zM480 292h4v4h-4zM380 296h4v4h-4zM468 296h12v4h-12zM376 300h4v4h-4zM444 300h8v4h-8z"/>
<path fill="#330000" d="M456 40h24v4h-24zM444 44h4v4h-4zM244 52h4v4h-4zM436 52h4v4h-4zM204 56h4v4h-4zM244 56h4v4h-4zM248 60h4v4h-4zM432 60h4v4h-4zM248 64h4v4h-4zM432 64h4v4h-4zM556 64h3v4h-3zM248 68h4v4h-4zM252 72h4v4h-4zM436 72h4v4h-4zM560 72h4v4h-4zM256 76h4v4h-4zM360 76h8v4h-8zM372 76h8v4h-8zM436 76h8v4h-8zM168 80h4v4h-4zM264 80h4v4h-4zM352 80h4v4h-4zM384 80h4v4h-4zM440 80h12v4h-12zM284 84h4v4h-4zM336 84h12v4h-12zM392 84h4v4h-4zM444 84h16v4h-16zM160 88h4v4h-4zM216 88h4v4h-4zM232 88h4v4h-4zM328 88h4v4h-4zM396 88h4v4h-4zM448 88h20v4h-20zM480 88h4v4h-4zM520 88h4v4h-4zM532 88h16v4h-16zM572 88h4v4h-4zM208 92h4v4h-4zM236 92h4v4h-4zM300 92h8v4h-8zM324 92h4v4h-4zM400 92h4v4h-4zM452 92h24v4h-24zM548 92h4v4h-4zM572 92h4v4h-4zM204 96h4v4h-4zM236 96h4v4h-4zM304 96h8v4h-8zM320 96h4v4h-4zM400 96h4v4h-4zM552 96h4v4h-4zM236 100h4v4h-4zM304 100h8v4h-8zM320 100h4v4h-4zM396 100h4v4h-4zM556 100h4v4h-4zM300 104h4v4h-4zM320 104h4v4h-4zM388 104h4v4h-4zM588 104h4v4h-4zM104 108h4v4h-4zM136 108h4v4h-4zM232 108h4v4h-4zM296 108h4v4h-4zM320 108h4v4h-4zM376 108h8v4h-8zM600 108h20v4h-20zM112 112h16v4h-16zM292 112h4v4h-4zM360 112h4v4h-4zM564 112h4v4h-4zM192 116h4v4h-4zM228 116h4v4h-4zM292 116h4v4h-4zM324 116h4v4h-4zM356 116h4v4h-4zM188 120h4v4h-4zM224 120h4v4h-4zM292 120h4v4h-4zM324 120h4v4h-4zM348 120h8v4h-8zM440 120h16v4h-16zM568 120h4v4h-4zM184 124h4v4h-4zM220 124h4v4h-4zM292 124h4v4h-4zM328 124h4v4h-4zM344 124h8v4h-8zM436 124h4v4h-4zM452 124h8v4h-8zM568 124h4v4h-4zM288 128h8v4h-8zM328 128h20v4h-20zM432 128h4v4h-4zM456 128h8v4h-8zM572 128h4v4h-4zM216 132h4v4h-4zM288 132h8v4h-8zM328 132h16v4h-16zM428 132h8v4h-8zM460 132h20v4h-20zM572 132h4v4h-4zM180 136h4v4h-4zM212 136h4v4h-4zM288 136h8v4h-8zM328 136h16v4h-16zM428 136h4v4h-4zM472 136h20v4h-20zM572 136h8v4h-8zM184 140h4v4h-4zM204 140h4v4h-4zM288 140h12v4h-12zM324 140h20v4h-20zM424 140h8v4h-8zM488 140h16v4h-16zM576 140h8v4h-8zM188 144h8v4h-8zM288 144h60v4h-60zM420 144h8v4h-8zM504 144h12v4h-12zM576 144h8v4h-8zM296 148h60v4h-60zM380 148h44v4h-44zM512 148h16v4h-16zM540 148h24v4h-24zM572 148h16v4h-16zM308 152h20v4h-20zM344 152h28v4h-28zM412 152h4v4h-4zM524 152h16v4h-16zM548 152h44v4h-44zM564 156h28v4h-28zM568 160h28v4h-28zM572 164h36v4h-36zM572 168h48v4h-48zM576 172h20v4h-20zM616 172h8v4h-8zM580 176h20v4h-20zM612 176h8v4h-8zM332 180h12v4h-12zM588 180h24v4h-24zM328 184h20v4h-20zM316 188h32v4h-32zM200 192h28v4h-28zM312 192h36v4h-36zM512 192h24v4h-24zM200 196h32v4h-32zM308 196h32v4h-32zM476 196h76v4h-76zM200 200h8v4h-8zM228 200h12v4h-12zM304 200h32v4h-32zM460 200h12v4h-12zM552 200h8v4h-8zM200 204h8v4h-8zM232 204h16v4h-16zM304 204h24v4h-24zM456 204h4v4h-4zM200 208h12v4h-12zM228 208h28v4h-28zM304 208h20v4h-20zM448 208h8v4h-8zM208 212h64v4h-64zM444 212h8v4h-8zM512 212h12v4h-12zM556 212h4v4h-4zM94 216h34v4h-34zM232 216h48v4h-48zM444 216h8v4h-8zM500 216h28v4h-28zM552 216h4v4h-4zM608 216h4v4h-4zM624 216h3v4h-3zM144 220h12v4h-12zM236 220h28v4h-28zM272 220h12v4h-12zM444 220h8v4h-8zM488 220h8v4h-8zM528 220h8v4h-8zM548 220h4v4h-4zM600 220h4v4h-4zM180 224h20v4h-20zM232 224h32v4h-32zM276 224h12v4h-12zM452 224h24v4h-24zM584 224h4v4h-4zM212 228h24v4h-24zM240 228h28v4h-28zM276 228h48v4h-48zM356 228h20v4h-20zM248 232h24v4h-24zM280 232h24v4h-24zM324 232h24v4h-24zM376 232h4v4h-4zM580 232h4v4h-4zM252 236h20v4h-20zM380 236h4v4h-4zM580 236h4v4h-4zM256 240h12v4h-12zM380 240h4v4h-4zM152 244h16v4h-16zM380 244h4v4h-4zM128 248h8v4h-8zM188 248h12v4h-12zM224 252h60v4h-60zM280 256h12v4h-12zM380 256h4v4h-4zM296 260h12v4h-12zM376 260h4v4h-4zM328 264h8v4h-8zM372 264h4v4h-4zM344 268h20v4h-20zM440 268h8v4h-8zM452 268h24v4h-24zM500 268h4v4h-4zM432 272h4v4h-4zM492 272h4v4h-4zM416 276h8v4h-8zM404 280h4v4h-4zM484 280h4v4h-4zM396 284h4v4h-4zM392 288h4v4h-4zM388 292h4v4h-4zM476 292h4v4h-4zM384 296h4v4h-4zM460 296h8v4h-8zM440 300h4v4h-4zM376 304h4v4h-4zM376 308h4v4h-4z"/>
<path fill="#4c0000" d="M448 40h8v4h-8zM440 44h4v4h-4zM232 48h16v4h-16zM436 48h4v4h-4zM216 52h4v4h-4zM248 56h4v4h-4zM432 56h4v4h-4zM192 60h4v4h-4zM252 64h4v4h-4zM176 68h4v4h-4zM252 68h4v4h-4zM432 68h4v4h-4zM560 68h7v4h-7zM172 72h4v4h-4zM256 72h4v4h-4zM432 72h4v4h-4zM564 72h4v4h-4zM260 76h4v4h-4zM356 76h4v4h-4zM380 76h4v4h-4zM564 76h4v4h-4zM268 80h8v4h-8zM340 80h12v4h-12zM388 80h4v4h-4zM436 80h4v4h-4zM568 80h4v4h-4zM164 84h4v4h-4zM288 84h4v4h-4zM332 84h4v4h-4zM440 84h4v4h-4zM220 88h4v4h-4zM228 88h4v4h-4zM296 88h8v4h-8zM400 88h4v4h-4zM444 88h4v4h-4zM484 88h8v4h-8zM516 88h4v4h-4zM308 92h8v4h-8zM320 92h4v4h-4zM404 92h4v4h-4zM444 92h8v4h-8zM476 92h4v4h-4zM312 96h8v4h-8zM404 96h4v4h-4zM448 96h28v4h-28zM576 96h4v4h-4zM312 100h8v4h-8zM400 100h4v4h-4zM452 100h16v4h-16zM580 100h4v4h-4zM105 104h3v4h-3zM140 104h4v4h-4zM200 104h4v4h-4zM232 104h4v4h-4zM304 104h16v4h-16zM392 104h4v4h-4zM108 108h4v4h-4zM132 108h4v4h-4zM300 108h8v4h-8zM312 108h8v4h-8zM384 108h4v4h-4zM560 108h4v4h-4zM196 112h4v4h-4zM228 112h4v4h-4zM296 112h8v4h-8zM316 112h8v4h-8zM364 112h12v4h-12zM440 112h16v4h-16zM224 116h4v4h-4zM296 116h4v4h-4zM320 116h4v4h-4zM360 116h4v4h-4zM436 116h24v4h-24zM564 116h4v4h-4zM220 120h4v4h-4zM296 120h4v4h-4zM320 120h4v4h-4zM356 120h4v4h-4zM432 120h8v4h-8zM456 120h8v4h-8zM564 120h4v4h-4zM296 124h8v4h-8zM324 124h4v4h-4zM352 124h4v4h-4zM428 124h8v4h-8zM460 124h12v4h-12zM184 128h4v4h-4zM216 128h4v4h-4zM296 128h8v4h-8zM324 128h4v4h-4zM348 128h8v4h-8zM424 128h8v4h-8zM464 128h16v4h-16zM568 128h4v4h-4zM184 132h4v4h-4zM212 132h4v4h-4zM296 132h12v4h-12zM320 132h8v4h-8zM344 132h12v4h-12zM424 132h4v4h-4zM480 132h12v4h-12zM568 132h4v4h-4zM184 136h4v4h-4zM208 136h4v4h-4zM296 136h32v4h-32zM344 136h12v4h-12zM420 136h8v4h-8zM492 136h8v4h-8zM564 136h8v4h-8zM188 140h16v4h-16zM300 140h24v4h-24zM344 140h12v4h-12zM416 140h8v4h-8zM504 140h12v4h-12zM564 140h12v4h-12zM348 144h12v4h-12zM392 144h28v4h-28zM516 144h12v4h-12zM544 144h32v4h-32zM356 148h24v4h-24zM528 148h12v4h-12zM564 148h8v4h-8zM596 172h20v4h-20zM600 176h12v4h-12zM208 200h20v4h-20zM472 200h80v4h-80zM208 204h24v4h-24zM460 204h8v4h-8zM508 204h28v4h-28zM556 204h4v4h-4zM212 208h16v4h-16zM456 208h4v4h-4zM508 208h24v4h-24zM556 208h4v4h-4zM452 212h4v4h-4zM504 212h8v4h-8zM524 212h8v4h-8zM452 216h4v4h-4zM492 216h8v4h-8zM528 216h4v4h-4zM612 216h12v4h-12zM132 220h12v4h-12zM264 220h8v4h-8zM452 220h36v4h-36zM536 220h12v4h-12zM604 220h4v4h-4zM160 224h20v4h-20zM264 224h12v4h-12zM588 224h4v4h-4zM200 228h12v4h-12zM236 228h4v4h-4zM268 228h8v4h-8zM584 228h4v4h-4zM240 232h8v4h-8zM272 232h8v4h-8zM304 232h20v4h-20zM348 232h28v4h-28zM244 236h8v4h-8zM272 236h40v4h-40zM324 236h20v4h-20zM376 236h4v4h-4zM248 240h8v4h-8zM268 240h32v4h-32zM376 240h4v4h-4zM584 240h4v4h-4zM140 244h12v4h-12zM168 244h12v4h-12zM252 244h40v4h-40zM592 244h4v4h-4zM127 248h1v4h-1zM200 248h20v4h-20zM248 248h44v4h-44zM380 248h4v4h-4zM284 252h12v4h-12zM380 252h4v4h-4zM292 256h12v4h-12zM376 256h4v4h-4zM308 260h16v4h-16zM372 260h4v4h-4zM336 264h8v4h-8zM364 264h8v4h-8zM448 268h4v4h-4zM476 268h24v4h-24zM436 272h8v4h-8zM456 272h12v4h-12zM424 276h8v4h-8zM484 276h4v4h-4zM408 280h8v4h-8zM400 284h4v4h-4zM484 284h4v4h-4zM396 288h4v4h-4zM480 288h4v4h-4zM392 292h4v4h-4zM472 292h4v4h-4zM388 296h4v4h-4zM452 296h8v4h-8zM380 300h4v4h-4zM436 300h4v4h-4zM432 304h4v4h-4z"/>
<path fill="#660000" d="M460 36h16v4h-16zM229 40h11v4h-11zM444 40h4v4h-4zM214 44h26v4h-26zM202 48h30v4h-30zM248 48h4v4h-4zM190 52h26v4h-26zM248 52h4v4h-4zM432 52h4v4h-4zM188 56h16v4h-16zM252 56h4v4h-4zM188 60h4v4h-4zM252 60h4v4h-4zM428 60h4v4h-4zM184 64h4v4h-4zM428 64h4v4h-4zM256 68h4v4h-4zM428 68h4v4h-4zM360 72h20v4h-20zM264 76h4v4h-4zM348 76h8v4h-8zM384 76h4v4h-4zM432 76h4v4h-4zM568 76h4v4h-4zM276 80h4v4h-4zM336 80h4v4h-4zM392 80h4v4h-4zM432 80h4v4h-4zM292 84h4v4h-4zM328 84h4v4h-4zM396 84h4v4h-4zM436 84h4v4h-4zM572 84h4v4h-4zM224 88h4v4h-4zM304 88h8v4h-8zM324 88h4v4h-4zM404 88h4v4h-4zM440 88h4v4h-4zM492 88h8v4h-8zM508 88h8v4h-8zM212 92h4v4h-4zM232 92h4v4h-4zM316 92h4v4h-4zM408 92h4v4h-4zM440 92h4v4h-4zM480 92h4v4h-4zM544 92h4v4h-4zM576 92h4v4h-4zM232 96h4v4h-4zM408 96h4v4h-4zM444 96h4v4h-4zM476 96h4v4h-4zM144 100h4v4h-4zM232 100h4v4h-4zM404 100h4v4h-4zM444 100h8v4h-8zM468 100h8v4h-8zM552 100h4v4h-4zM584 100h4v4h-4zM440 104h28v4h-28zM556 104h4v4h-4zM592 104h24v4h-24zM112 108h4v4h-4zM228 108h4v4h-4zM308 108h4v4h-4zM388 108h4v4h-4zM436 108h28v4h-28zM224 112h4v4h-4zM304 112h12v4h-12zM376 112h8v4h-8zM432 112h8v4h-8zM456 112h8v4h-8zM560 112h4v4h-4zM300 116h20v4h-20zM364 116h8v4h-8zM428 116h8v4h-8zM460 116h8v4h-8zM560 116h4v4h-4zM192 120h4v4h-4zM300 120h20v4h-20zM360 120h4v4h-4zM428 120h4v4h-4zM464 120h8v4h-8zM188 124h4v4h-4zM216 124h4v4h-4zM304 124h20v4h-20zM356 124h8v4h-8zM424 124h4v4h-4zM472 124h8v4h-8zM564 124h4v4h-4zM304 128h20v4h-20zM356 128h4v4h-4zM420 128h4v4h-4zM480 128h12v4h-12zM564 128h4v4h-4zM308 132h12v4h-12zM356 132h4v4h-4zM416 132h8v4h-8zM492 132h8v4h-8zM560 132h8v4h-8zM188 136h4v4h-4zM204 136h4v4h-4zM356 136h8v4h-8zM412 136h8v4h-8zM500 136h8v4h-8zM560 136h4v4h-4zM356 140h8v4h-8zM396 140h20v4h-20zM516 140h8v4h-8zM548 140h16v4h-16zM360 144h32v4h-32zM528 144h16v4h-16zM468 204h40v4h-40zM536 204h8v4h-8zM548 204h8v4h-8zM460 208h12v4h-12zM496 208h12v4h-12zM532 208h4v4h-4zM552 208h4v4h-4zM456 212h12v4h-12zM492 212h12v4h-12zM532 212h4v4h-4zM552 212h4v4h-4zM456 216h36v4h-36zM532 216h8v4h-8zM544 216h8v4h-8zM97 220h35v4h-35zM608 220h4v4h-4zM616 220h8v4h-8zM148 224h12v4h-12zM592 224h8v4h-8zM180 228h20v4h-20zM216 232h24v4h-24zM584 232h4v4h-4zM240 236h4v4h-4zM312 236h12v4h-12zM344 236h12v4h-12zM368 236h8v4h-8zM584 236h4v4h-4zM244 240h4v4h-4zM300 240h44v4h-44zM372 240h4v4h-4zM124 244h16v4h-16zM180 244h12v4h-12zM244 244h8v4h-8zM292 244h16v4h-16zM332 244h4v4h-4zM376 244h4v4h-4zM596 244h3v4h-3zM220 248h28v4h-28zM292 248h12v4h-12zM376 248h4v4h-4zM296 252h8v4h-8zM376 252h4v4h-4zM304 256h8v4h-8zM324 260h16v4h-16zM368 260h4v4h-4zM344 264h20v4h-20zM444 272h12v4h-12zM468 272h24v4h-24zM432 276h8v4h-8zM480 276h4v4h-4zM416 280h8v4h-8zM404 284h4v4h-4zM480 284h4v4h-4zM400 288h4v4h-4zM476 288h4v4h-4zM396 292h4v4h-4zM464 292h8v4h-8zM392 296h4v4h-4zM448 296h4v4h-4zM384 300h4v4h-4zM432 300h4v4h-4zM380 304h4v4h-4zM428 304h4v4h-4zM380 308h4v4h-4z"/>
<path fill="#800000" d="M245 36h11v4h-11zM448 36h12v4h-12zM240 40h12v4h-12zM440 40h4v4h-4zM240 44h12v4h-12zM436 44h4v4h-4zM252 48h4v4h-4zM432 48h4v4h-4zM252 52h4v4h-4zM180 56h8v4h-8zM428 56h4v4h-4zM171 60h1v4h-1zM180 60h8v4h-8zM256 60h4v4h-4zM176 64h4v4h-4zM256 64h4v4h-4zM172 68h4v4h-4zM260 72h4v4h-4zM356 72h4v4h-4zM380 72h4v4h-4zM428 72h4v4h-4zM568 72h4v4h-4zM168 76h4v4h-4zM268 76h4v4h-4zM340 76h8v4h-8zM388 76h4v4h-4zM428 76h4v4h-4zM280 80h8v4h-8zM332 80h4v4h-4zM572 80h4v4h-4zM296 84h8v4h-8zM324 84h4v4h-4zM400 84h4v4h-4zM432 84h4v4h-4zM312 88h12v4h-12zM408 88h4v4h-4zM436 88h4v4h-4zM500 88h8v4h-8zM576 88h4v4h-4zM152 92h4v4h-4zM216 92h4v4h-4zM228 92h4v4h-4zM412 92h4v4h-4zM436 92h4v4h-4zM484 92h4v4h-4zM528 92h8v4h-8zM540 92h4v4h-4zM148 96h4v4h-4zM208 96h4v4h-4zM412 96h4v4h-4zM440 96h4v4h-4zM480 96h4v4h-4zM548 96h4v4h-4zM580 96h4v4h-4zM204 100h4v4h-4zM408 100h4v4h-4zM436 100h8v4h-8zM476 100h4v4h-4zM588 100h4v4h-4zM108 104h4v4h-4zM136 104h4v4h-4zM228 104h4v4h-4zM396 104h8v4h-8zM432 104h8v4h-8zM468 104h8v4h-8zM116 108h16v4h-16zM200 108h4v4h-4zM392 108h4v4h-4zM428 108h8v4h-8zM464 108h8v4h-8zM556 108h4v4h-4zM384 112h4v4h-4zM428 112h4v4h-4zM464 112h8v4h-8zM556 112h4v4h-4zM196 116h4v4h-4zM220 116h4v4h-4zM372 116h12v4h-12zM424 116h4v4h-4zM468 116h8v4h-8zM216 120h4v4h-4zM364 120h16v4h-16zM420 120h8v4h-8zM472 120h8v4h-8zM560 120h4v4h-4zM364 124h8v4h-8zM416 124h8v4h-8zM480 124h8v4h-8zM560 124h4v4h-4zM188 128h4v4h-4zM212 128h4v4h-4zM360 128h8v4h-8zM416 128h4v4h-4zM492 128h4v4h-4zM560 128h4v4h-4zM188 132h4v4h-4zM208 132h4v4h-4zM360 132h8v4h-8zM408 132h8v4h-8zM500 132h4v4h-4zM556 132h4v4h-4zM192 136h12v4h-12zM364 136h48v4h-48zM508 136h8v4h-8zM548 136h12v4h-12zM364 140h32v4h-32zM524 140h24v4h-24zM544 204h4v4h-4zM472 208h24v4h-24zM536 208h16v4h-16zM468 212h24v4h-24zM536 212h16v4h-16zM540 216h4v4h-4zM612 220h4v4h-4zM100 224h48v4h-48zM600 224h4v4h-4zM620 224h1v4h-1zM104 228h8v4h-8zM156 228h24v4h-24zM588 228h4v4h-4zM108 232h4v4h-4zM196 232h20v4h-20zM588 232h4v4h-4zM220 236h20v4h-20zM356 236h12v4h-12zM117 240h59v4h-59zM232 240h12v4h-12zM344 240h8v4h-8zM368 240h4v4h-4zM588 240h4v4h-4zM122 244h2v4h-2zM192 244h52v4h-52zM308 244h24v4h-24zM336 244h8v4h-8zM372 244h4v4h-4zM304 248h12v4h-12zM328 248h8v4h-8zM372 248h4v4h-4zM304 252h12v4h-12zM372 252h4v4h-4zM312 256h24v4h-24zM372 256h4v4h-4zM340 260h8v4h-8zM360 260h8v4h-8zM440 276h8v4h-8zM456 276h24v4h-24zM424 280h8v4h-8zM480 280h4v4h-4zM408 284h8v4h-8zM476 284h4v4h-4zM404 288h4v4h-4zM472 288h4v4h-4zM400 292h4v4h-4zM460 292h4v4h-4zM396 296h4v4h-4zM440 296h8v4h-8zM388 300h4v4h-4zM428 300h4v4h-4zM384 304h4v4h-4zM424 304h4v4h-4z"/>
<path fill="#990000" d="M256 36h8v4h-8zM444 36h4v4h-4zM252 40h8v4h-8zM252 44h4v4h-4zM256 52h4v4h-4zM428 52h4v4h-4zM256 56h4v4h-4zM172 60h8v4h-8zM162 64h14v4h-14zM180 64h4v4h-4zM260 64h4v4h-4zM424 64h4v4h-4zM168 68h4v4h-4zM260 68h4v4h-4zM360 68h20v4h-20zM424 68h4v4h-4zM168 72h4v4h-4zM264 72h4v4h-4zM348 72h8v4h-8zM384 72h4v4h-4zM424 72h4v4h-4zM572 72h2v4h-2zM272 76h4v4h-4zM336 76h4v4h-4zM392 76h4v4h-4zM424 76h4v4h-4zM572 76h4v4h-4zM164 80h4v4h-4zM288 80h8v4h-8zM328 80h4v4h-4zM396 80h4v4h-4zM428 80h4v4h-4zM304 84h8v4h-8zM320 84h4v4h-4zM404 84h4v4h-4zM428 84h4v4h-4zM576 84h4v4h-4zM156 88h4v4h-4zM412 88h8v4h-8zM432 88h4v4h-4zM220 92h8v4h-8zM416 92h8v4h-8zM432 92h4v4h-4zM488 92h4v4h-4zM520 92h8v4h-8zM536 92h4v4h-4zM580 92h4v4h-4zM228 96h4v4h-4zM416 96h12v4h-12zM432 96h8v4h-8zM484 96h4v4h-4zM584 96h4v4h-4zM109 100h3v4h-3zM228 100h4v4h-4zM412 100h24v4h-24zM480 100h4v4h-4zM548 100h4v4h-4zM592 100h8v4h-8zM112 104h4v4h-4zM404 104h8v4h-8zM420 104h12v4h-12zM476 104h4v4h-4zM552 104h4v4h-4zM224 108h4v4h-4zM424 108h4v4h-4zM472 108h4v4h-4zM552 108h4v4h-4zM200 112h4v4h-4zM388 112h4v4h-4zM420 112h8v4h-8zM472 112h4v4h-4zM216 116h4v4h-4zM384 116h8v4h-8zM420 116h4v4h-4zM476 116h4v4h-4zM556 116h4v4h-4zM196 120h4v4h-4zM212 120h4v4h-4zM380 120h8v4h-8zM416 120h4v4h-4zM480 120h8v4h-8zM556 120h4v4h-4zM192 124h4v4h-4zM212 124h4v4h-4zM372 124h16v4h-16zM412 124h4v4h-4zM488 124h8v4h-8zM556 124h4v4h-4zM192 128h4v4h-4zM208 128h4v4h-4zM368 128h24v4h-24zM404 128h12v4h-12zM496 128h8v4h-8zM556 128h4v4h-4zM192 132h8v4h-8zM204 132h4v4h-4zM368 132h40v4h-40zM504 132h8v4h-8zM552 132h4v4h-4zM516 136h8v4h-8zM540 136h8v4h-8zM604 224h16v4h-16zM112 228h44v4h-44zM592 228h8v4h-8zM616 228h1v4h-1zM112 232h84v4h-84zM112 236h108v4h-108zM588 236h4v4h-4zM176 240h56v4h-56zM352 240h16v4h-16zM592 240h12v4h-12zM344 244h8v4h-8zM368 244h4v4h-4zM316 248h12v4h-12zM336 248h8v4h-8zM368 248h4v4h-4zM316 252h28v4h-28zM368 252h4v4h-4zM336 256h8v4h-8zM368 256h4v4h-4zM348 260h12v4h-12zM448 276h8v4h-8zM432 280h8v4h-8zM472 280h8v4h-8zM416 284h8v4h-8zM472 284h4v4h-4zM408 288h8v4h-8zM468 288h4v4h-4zM404 292h8v4h-8zM452 292h8v4h-8zM400 296h4v4h-4zM432 296h8v4h-8zM392 300h8v4h-8zM424 300h4v4h-4zM388 304h4v4h-4zM420 304h4v4h-4zM384 308h8v4h-8z"/>
<path fill="#b20000" d="M265 32h3v4h-3zM448 32h8v4h-8zM264 36h4v4h-4zM260 40h4v4h-4zM436 40h4v4h-4zM256 44h4v4h-4zM432 44h4v4h-4zM256 48h4v4h-4zM428 48h4v4h-4zM260 56h4v4h-4zM424 56h4v4h-4zM260 60h4v4h-4zM424 60h4v4h-4zM264 64h4v4h-4zM164 68h4v4h-4zM264 68h4v4h-4zM356 68h4v4h-4zM380 68h4v4h-4zM268 72h4v4h-4zM340 72h8v4h-8zM388 72h4v4h-4zM276 76h8v4h-8zM332 76h4v4h-4zM576 76h4v4h-4zM296 80h4v4h-4zM324 80h4v4h-4zM400 80h4v4h-4zM424 80h4v4h-4zM576 80h4v4h-4zM160 84h4v4h-4zM312 84h8v4h-8zM408 84h20v4h-20zM420 88h12v4h-12zM580 88h4v4h-4zM424 92h8v4h-8zM492 92h4v4h-4zM212 96h4v4h-4zM428 96h4v4h-4zM544 96h4v4h-4zM112 100h4v4h-4zM140 100h4v4h-4zM484 100h4v4h-4zM600 100h12v4h-12zM116 104h4v4h-4zM132 104h4v4h-4zM204 104h4v4h-4zM412 104h8v4h-8zM480 104h4v4h-4zM548 104h4v4h-4zM396 108h28v4h-28zM476 108h4v4h-4zM220 112h4v4h-4zM392 112h4v4h-4zM416 112h4v4h-4zM476 112h4v4h-4zM552 112h4v4h-4zM200 116h4v4h-4zM392 116h4v4h-4zM412 116h8v4h-8zM480 116h4v4h-4zM552 116h4v4h-4zM200 120h4v4h-4zM208 120h4v4h-4zM388 120h8v4h-8zM408 120h8v4h-8zM488 120h4v4h-4zM552 120h4v4h-4zM196 124h4v4h-4zM208 124h4v4h-4zM388 124h24v4h-24zM496 124h4v4h-4zM552 124h4v4h-4zM196 128h4v4h-4zM204 128h4v4h-4zM392 128h12v4h-12zM504 128h4v4h-4zM552 128h4v4h-4zM200 132h4v4h-4zM512 132h4v4h-4zM544 132h8v4h-8zM524 136h16v4h-16zM600 228h16v4h-16zM592 232h8v4h-8zM612 232h1v4h-1zM592 236h8v4h-8zM604 236h5v4h-5zM352 244h16v4h-16zM344 248h24v4h-24zM344 252h8v4h-8zM364 252h4v4h-4zM344 256h24v4h-24zM440 280h32v4h-32zM424 284h8v4h-8zM468 284h4v4h-4zM416 288h8v4h-8zM460 288h8v4h-8zM412 292h8v4h-8zM444 292h8v4h-8zM404 296h28v4h-28zM400 300h24v4h-24zM392 304h28v4h-28zM392 308h4v4h-4z"/>
<path fill="#cc0000" d="M268 32h4v4h-4zM444 32h4v4h-4zM268 36h4v4h-4zM440 36h4v4h-4zM264 40h4v4h-4zM260 44h4v4h-4zM260 48h4v4h-4zM260 52h4v4h-4zM424 52h4v4h-4zM264 56h4v4h-4zM264 60h4v4h-4zM420 60h4v4h-4zM268 64h4v4h-4zM364 64h12v4h-12zM420 64h4v4h-4zM156 68h8v4h-8zM268 68h4v4h-4zM348 68h8v4h-8zM384 68h4v4h-4zM420 68h4v4h-4zM164 72h4v4h-4zM272 72h8v4h-8zM336 72h4v4h-4zM392 72h4v4h-4zM420 72h4v4h-4zM164 76h4v4h-4zM284 76h8v4h-8zM328 76h4v4h-4zM396 76h4v4h-4zM420 76h4v4h-4zM580 76h1v4h-1zM300 80h12v4h-12zM320 80h4v4h-4zM404 80h8v4h-8zM416 80h8v4h-8zM580 80h4v4h-4zM580 84h4v4h-4zM584 88h4v4h-4zM496 92h8v4h-8zM512 92h8v4h-8zM584 92h4v4h-4zM144 96h4v4h-4zM216 96h4v4h-4zM224 96h4v4h-4zM488 96h4v4h-4zM528 96h16v4h-16zM588 96h12v4h-12zM604 96h4v4h-4zM116 100h4v4h-4zM208 100h4v4h-4zM544 100h4v4h-4zM120 104h12v4h-12zM224 104h4v4h-4zM484 104h4v4h-4zM204 108h4v4h-4zM480 108h4v4h-4zM548 108h4v4h-4zM216 112h4v4h-4zM396 112h20v4h-20zM480 112h8v4h-8zM548 112h4v4h-4zM204 116h12v4h-12zM396 116h16v4h-16zM484 116h8v4h-8zM548 116h4v4h-4zM204 120h4v4h-4zM396 120h12v4h-12zM492 120h4v4h-4zM548 120h4v4h-4zM200 124h8v4h-8zM500 124h4v4h-4zM548 124h4v4h-4zM200 128h4v4h-4zM508 128h4v4h-4zM548 128h4v4h-4zM516 132h4v4h-4zM540 132h4v4h-4zM600 232h12v4h-12zM600 236h4v4h-4zM352 252h12v4h-12zM432 284h36v4h-36zM424 288h36v4h-36zM420 292h24v4h-24z"/>
<path fill="#e60000" d="M272 32h4v4h-4zM440 32h4v4h-4zM436 36h4v4h-4zM268 40h4v4h-4zM432 40h4v4h-4zM264 44h4v4h-4zM428 44h4v4h-4zM264 48h4v4h-4zM424 48h4v4h-4zM264 52h4v4h-4zM268 56h4v4h-4zM420 56h4v4h-4zM268 60h4v4h-4zM272 64h4v4h-4zM360 64h4v4h-4zM376 64h8v4h-8zM154 68h2v4h-2zM272 68h8v4h-8zM344 68h4v4h-4zM388 68h4v4h-4zM416 68h4v4h-4zM160 72h4v4h-4zM280 72h4v4h-4zM332 72h4v4h-4zM396 72h4v4h-4zM416 72h4v4h-4zM292 76h12v4h-12zM324 76h4v4h-4zM400 76h20v4h-20zM160 80h4v4h-4zM312 80h8v4h-8zM412 80h4v4h-4zM584 80h3v4h-3zM584 84h4v4h-4zM152 88h4v4h-4zM148 92h4v4h-4zM504 92h8v4h-8zM588 92h4v4h-4zM113 96h7v4h-7zM220 96h4v4h-4zM492 96h4v4h-4zM524 96h4v4h-4zM600 96h4v4h-4zM120 100h4v4h-4zM136 100h4v4h-4zM224 100h4v4h-4zM488 100h4v4h-4zM540 100h4v4h-4zM488 104h4v4h-4zM544 104h4v4h-4zM220 108h4v4h-4zM484 108h4v4h-4zM544 108h4v4h-4zM204 112h4v4h-4zM488 112h4v4h-4zM492 116h4v4h-4zM496 120h4v4h-4zM504 124h4v4h-4zM512 128h4v4h-4zM544 128h4v4h-4zM520 132h20v4h-20z"/>
<path fill="#ff0000" d="M272 36h4v4h-4zM428 40h4v4h-4zM424 44h4v4h-4zM268 48h4v4h-4zM268 52h4v4h-4zM420 52h4v4h-4zM272 56h4v4h-4zM272 60h4v4h-4zM416 60h4v4h-4zM276 64h4v4h-4zM352 64h8v4h-8zM384 64h8v4h-8zM416 64h4v4h-4zM280 68h4v4h-4zM336 68h8v4h-8zM392 68h8v4h-8zM412 68h4v4h-4zM152 72h8v4h-8zM284 72h12v4h-12zM328 72h4v4h-4zM400 72h16v4h-16zM160 76h4v4h-4zM304 76h20v4h-20zM156 84h4v4h-4zM588 84h5v4h-5zM123 88h1v4h-1zM588 88h10v4h-10zM118 92h6v4h-6zM592 92h11v4h-11zM120 96h8v4h-8zM140 96h4v4h-4zM496 96h4v4h-4zM520 96h4v4h-4zM124 100h12v4h-12zM212 100h12v4h-12zM492 100h4v4h-4zM532 100h8v4h-8zM208 104h4v4h-4zM220 104h4v4h-4zM540 104h4v4h-4zM208 108h4v4h-4zM216 108h4v4h-4zM488 108h4v4h-4zM208 112h8v4h-8zM492 112h4v4h-4zM544 112h4v4h-4zM496 116h4v4h-4zM544 116h4v4h-4zM500 120h4v4h-4zM544 120h4v4h-4zM544 124h4v4h-4zM516 128h4v4h-4zM540 128h4v4h-4z"/>
<path fill="#ff1100" d="M276 32h4v4h-4zM436 32h4v4h-4zM432 36h4v4h-4zM272 40h4v4h-4zM268 44h4v4h-4zM272 48h4v4h-4zM420 48h4v4h-4zM272 52h4v4h-4zM276 56h4v4h-4zM416 56h4v4h-4zM276 60h8v4h-8zM364 60h24v4h-24zM412 60h4v4h-4zM280 64h8v4h-8zM348 64h4v4h-4zM392 64h8v4h-8zM408 64h8v4h-8zM284 68h8v4h-8zM332 68h4v4h-4zM400 68h12v4h-12zM147 72h5v4h-5zM296 72h8v4h-8zM324 72h4v4h-4zM148 76h12v4h-12zM134 80h6v4h-6zM156 80h4v4h-4zM128 84h12v4h-12zM124 88h12v4h-12zM124 92h8v4h-8zM144 92h4v4h-4zM128 96h12v4h-12zM500 96h4v4h-4zM516 96h4v4h-4zM496 100h4v4h-4zM524 100h8v4h-8zM212 104h8v4h-8zM492 104h4v4h-4zM536 104h4v4h-4zM212 108h4v4h-4zM492 108h4v4h-4zM540 108h4v4h-4zM540 112h4v4h-4zM540 116h4v4h-4zM504 120h4v4h-4zM540 120h4v4h-4zM508 124h4v4h-4zM540 124h4v4h-4zM520 128h4v4h-4zM532 128h8v4h-8z"/>
<path fill="#ff2200" d="M432 32h4v4h-4zM276 36h4v4h-4zM428 36h4v4h-4zM424 40h4v4h-4zM272 44h4v4h-4zM420 44h4v4h-4zM276 48h4v4h-4zM416 48h4v4h-4zM276 52h8v4h-8zM416 52h4v4h-4zM280 56h8v4h-8zM412 56h4v4h-4zM284 60h4v4h-4zM356 60h8v4h-8zM388 60h8v4h-8zM404 60h8v4h-8zM288 64h4v4h-4zM340 64h8v4h-8zM400 64h8v4h-8zM292 68h8v4h-8zM328 68h4v4h-4zM304 72h20v4h-20zM140 76h8v4h-8zM140 80h16v4h-16zM140 84h16v4h-16zM136 88h16v4h-16zM132 92h12v4h-12zM504 96h12v4h-12zM520 100h4v4h-4zM496 104h4v4h-4zM532 104h4v4h-4zM496 108h4v4h-4zM536 108h4v4h-4zM496 112h4v4h-4zM500 116h4v4h-4zM512 124h4v4h-4zM536 124h4v4h-4zM524 128h8v4h-8z"/>
<path fill="#ff3300" d="M280 32h4v4h-4zM428 32h4v4h-4zM424 36h4v4h-4zM276 40h4v4h-4zM420 40h4v4h-4zM276 44h4v4h-4zM416 44h4v4h-4zM280 48h4v4h-4zM284 52h4v4h-4zM412 52h4v4h-4zM288 56h4v4h-4zM368 56h28v4h-28zM404 56h8v4h-8zM288 60h8v4h-8zM352 60h4v4h-4zM396 60h8v4h-8zM292 64h8v4h-8zM336 64h4v4h-4zM300 68h8v4h-8zM320 68h8v4h-8zM500 100h8v4h-8zM516 100h4v4h-4zM500 104h4v4h-4zM528 104h4v4h-4zM532 108h4v4h-4zM500 112h4v4h-4zM536 112h4v4h-4zM504 116h4v4h-4zM536 116h4v4h-4zM508 120h4v4h-4zM536 120h4v4h-4zM516 124h4v4h-4zM532 124h4v4h-4z"/>
<path fill="#ff4400" d="M428 28h1v4h-1zM424 32h4v4h-4zM280 36h4v4h-4zM420 36h4v4h-4zM280 40h4v4h-4zM416 40h4v4h-4zM280 44h4v4h-4zM412 44h4v4h-4zM284 48h4v4h-4zM408 48h8v4h-8zM288 52h4v4h-4zM384 52h8v4h-8zM400 52h12v4h-12zM292 56h4v4h-4zM364 56h4v4h-4zM396 56h8v4h-8zM296 60h4v4h-4zM348 60h4v4h-4zM300 64h4v4h-4zM328 64h8v4h-8zM308 68h12v4h-12zM508 100h8v4h-8zM504 104h4v4h-4zM524 104h4v4h-4zM500 108h4v4h-4zM528 108h4v4h-4zM532 112h4v4h-4zM512 120h4v4h-4zM532 120h4v4h-4zM520 124h12v4h-12z"/>
<path fill="#ff5500" d="M420 28h8v4h-8zM284 32h4v4h-4zM420 32h4v4h-4zM416 36h4v4h-4zM412 40h4v4h-4zM284 44h4v4h-4zM408 44h4v4h-4zM288 48h4v4h-4zM400 48h8v4h-8zM292 52h4v4h-4zM376 52h8v4h-8zM392 52h8v4h-8zM296 56h4v4h-4zM360 56h4v4h-4zM300 60h4v4h-4zM340 60h8v4h-8zM304 64h8v4h-8zM324 64h4v4h-4zM508 104h16v4h-16zM504 108h4v4h-4zM524 108h4v4h-4zM504 112h4v4h-4zM508 116h4v4h-4zM532 116h4v4h-4zM516 120h4v4h-4zM528 120h4v4h-4z"/>
<path fill="#ff6600" d="M416 28h4v4h-4zM416 32h4v4h-4zM284 36h4v4h-4zM412 36h4v4h-4zM284 40h4v4h-4zM408 40h4v4h-4zM400 44h8v4h-8zM384 48h16v4h-16zM368 52h8v4h-8zM352 56h8v4h-8zM304 60h4v4h-4zM336 60h4v4h-4zM312 64h12v4h-12zM508 108h16v4h-16zM508 112h4v4h-4zM524 112h8v4h-8zM512 116h4v4h-4zM528 116h4v4h-4zM520 120h8v4h-8z"/>
<path fill="#ff7700" d="M292 28h4v4h-4zM412 28h4v4h-4zM288 32h4v4h-4zM408 32h8v4h-8zM288 36h4v4h-4zM404 36h8v4h-8zM288 40h4v4h-4zM400 40h8v4h-8zM288 44h4v4h-4zM388 44h12v4h-12zM292 48h4v4h-4zM376 48h8v4h-8zM296 52h4v4h-4zM364 52h4v4h-4zM300 56h4v4h-4zM348 56h4v4h-4zM308 60h4v4h-4zM328 60h8v4h-8zM512 112h12v4h-12zM516 116h12v4h-12z"/>
<path fill="#ff8800" d="M404 28h8v4h-8zM292 32h4v4h-4zM404 32h4v4h-4zM400 36h4v4h-4zM388 40h12v4h-12zM292 44h4v4h-4zM380 44h8v4h-8zM296 48h4v4h-4zM372 48h4v4h-4zM300 52h4v4h-4zM360 52h4v4h-4zM304 56h4v4h-4zM344 56h4v4h-4zM312 60h16v4h-16z"/>
<path fill="#ff9900" d="M296 28h4v4h-4zM396 28h8v4h-8zM396 32h8v4h-8zM292 36h4v4h-4zM388 36h12v4h-12zM292 40h4v4h-4zM384 40h4v4h-4zM376 44h4v4h-4zM368 48h4v4h-4zM356 52h4v4h-4zM308 56h4v4h-4zM336 56h8v4h-8z"/>
<path fill="#ffaa00" d="M300 28h4v4h-4zM388 28h8v4h-8zM296 32h4v4h-4zM388 32h8v4h-8zM296 36h4v4h-4zM384 36h4v4h-4zM296 40h4v4h-4zM376 40h8v4h-8zM296 44h4v4h-4zM372 44h4v4h-4zM300 48h4v4h-4zM364 48h4v4h-4zM304 52h4v4h-4zM352 52h4v4h-4zM312 56h4v4h-4zM328 56h8v4h-8z"/>
<path fill="#ffbb00" d="M304 28h4v4h-4zM380 28h8v4h-8zM300 32h4v4h-4zM380 32h8v4h-8zM376 36h8v4h-8zM372 40h4v4h-4zM300 44h4v4h-4zM368 44h4v4h-4zM304 48h4v4h-4zM360 48h4v4h-4zM308 52h4v4h-4zM344 52h8v4h-8zM316 56h12v4h-12z"/>
<path fill="#ffcc00" d="M308 28h4v4h-4zM372 28h8v4h-8zM304 32h4v4h-4zM372 32h8v4h-8zM300 36h4v4h-4zM372 36h4v4h-4zM300 40h4v4h-4zM368 40h4v4h-4zM364 44h4v4h-4zM356 48h4v4h-4zM312 52h4v4h-4zM336 52h8v4h-8z"/>
<path fill="#ffdd00" d="M364 28h8v4h-8zM364 32h8v4h-8zM304 36h4v4h-4zM368 36h4v4h-4zM304 40h4v4h-4zM364 40h4v4h-4zM304 44h4v4h-4zM360 44h4v4h-4zM308 48h4v4h-4zM348 48h8v4h-8zM316 52h20v4h-20z"/>
<path fill="#ffee00" d="M312 28h8v4h-8zM352 28h12v4h-12zM308 32h4v4h-4zM360 32h4v4h-4zM360 36h8v4h-8zM360 40h4v4h-4zM308 44h4v4h-4zM356 44h4v4h-4zM312 48h4v4h-4zM344 48h4v4h-4z"/>
<path fill="#ffff00" d="M320 28h8v4h-8zM344 28h8v4h-8zM312 32h8v4h-8zM352 32h8v4h-8zM308 36h4v4h-4zM356 36h4v4h-4zM308 40h4v4h-4zM356 40h4v4h-4zM312 44h4v4h-4zM348 44h8v4h-8zM316 48h8v4h-8zM328 48h16v4h-16z"/>
<path fill="#ffff00" d="M328 28h16v4h-16zM320 32h32v4h-32zM312 36h8v4h-8zM348 36h8v4h-8zM312 40h8v4h-8zM348 40h8v4h-8zM316 44h4v4h-4zM340 44h8v4h-8zM324 48h4v4h-4z"/>
<path fill="#ffff00" d="M320 36h28v4h-28zM320 40h28v4h-28zM320 44h20v4h-20z"/>
</g>
<rect x="70" y="20" width="590" height="12.3" fill="#808080"/><rect x="70" y="304.5" width="590" height="10" fill="#808080"/>
<path fill="none" stroke="#fff" stroke-width="1" stroke-linejoin="round" shape-rendering="crispEdges" d="M210.0 53.3L216.9 52.1L216.9 52.8L220.7 50.7L221.7 49.6L229.3 48.1L235.6 46.8L241.5 45.7L243.0 46.4L244.2 47.0L247.1 47.4L247.3 47.9L248.5 48.7L252.6 48.1L257.4 47.4L259.9 47.0L259.8 48.1L264.0 47.7L264.6 48.8L263.3 50.3L267.5 50.3L270.2 49.8L272.2 50.0L274.0 50.4L277.6 50.3L280.4 49.6L284.0 48.1L287.6 45.5L290.3 44.8L288.7 46.8L286.8 48.3L287.5 49.4L287.2 50.7L291.0 48.7L294.9 47.8L292.9 49.4L289.6 51.4L286.6 52.4L284.2 52.8L280.5 54.9L277.7 55.6L274.9 56.3L270.1 58.4L264.9 61.4L262.5 63.3L261.6 65.9L265.1 66.2L267.1 68.6L269.8 68.9L267.1 72.2L266.9 74.6L268.6 74.6L271.9 70.6L276.8 67.5L280.2 64.4L280.1 62.9L283.6 59.9L285.3 57.9L289.0 58.0L290.3 59.6L290.2 61.4L288.6 63.2L290.8 63.6L294.7 61.4L295.7 60.8L295.4 64.4L294.2 67.5L295.9 69.8L296.7 72.2L296.2 73.8L294.1 74.7L290.2 76.5L286.0 76.5L281.8 76.7L277.0 79.5L272.8 82.3L278.2 79.5L282.5 78.3L282.0 80.3L280.4 82.0L280.7 83.6L283.7 84.0L286.1 82.8L283.8 85.0L280.1 86.0L276.6 87.9L276.9 86.2L279.7 84.5L276.1 85.3L272.6 87.0L269.7 88.7L269.5 90.4L266.9 91.6L263.0 92.9L262.0 94.8L259.1 96.5L257.1 99.2L256.2 101.8L253.7 103.6L249.9 105.9L246.1 108.1L244.3 110.8L243.9 115.4L243.7 118.2L242.5 120.6L241.1 120.6L241.0 117.6L240.6 115.4L241.2 113.2L240.3 111.7L238.0 112.3L236.4 111.0L233.4 111.2L232.1 113.2L229.8 113.0L226.5 112.3L223.9 113.2L220.1 115.4L218.1 119.1L215.9 122.8L214.7 126.0L214.6 129.0L215.6 131.8L217.3 133.7L220.6 132.9L223.0 132.2L224.9 128.4L228.1 127.5L230.4 127.5L228.6 131.2L227.1 134.1L225.4 137.8L227.6 138.2L230.7 138.0L233.0 139.7L232.0 143.5L231.1 147.4L232.6 150.2L234.7 151.6L237.2 150.2L239.5 150.6L240.4 152.2L239.9 154.1L238.6 152.2L236.2 152.5L235.2 154.5L233.1 152.7L230.8 152.2L228.8 149.7L228.0 147.4L225.8 143.5L222.9 142.6L220.0 141.6L217.6 138.8L215.6 137.5L212.4 138.2L209.0 136.5L205.9 134.1L203.4 132.2L202.0 129.3L203.4 125.6L202.3 122.8L200.7 119.6L200.0 116.3L199.1 112.7L199.5 109.4L198.2 108.7L196.7 111.7L197.4 114.5L197.4 117.2L197.6 120.0L197.8 122.8L197.8 124.7L196.7 123.7L195.7 120.9L195.1 117.6L194.0 115.4L194.8 112.7L194.9 109.9L195.8 106.8L195.5 104.5L193.4 103.6L193.9 100.9L195.0 97.8L195.1 95.6L196.5 93.0L199.3 90.4L202.3 87.0L206.3 83.3L209.5 79.8L210.8 80.3L213.2 78.2L212.7 76.5L212.2 74.6L214.8 72.2L215.8 69.8L217.6 67.5L219.1 65.2L218.9 63.6L219.5 62.1L217.8 61.4L215.3 61.1L215.1 59.9L211.7 60.6L207.2 62.1L205.1 62.4L210.7 59.9L204.2 62.1L200.2 63.6L195.2 65.2L190.2 66.7L184.7 68.2L179.9 69.3L183.9 67.8L188.1 66.7L194.6 64.4L197.5 63.2L195.9 63.2L193.3 63.2L196.6 61.4L195.6 60.6L199.6 58.4L204.0 57.0L208.5 56.3L212.4 54.9L210.6 54.9L208.2 54.7L210.0 53.3M306.7 52.1L300.3 56.3L296.3 58.4L295.5 57.3L292.9 57.0L292.4 54.9L288.8 54.9L291.8 52.8L297.0 51.4L300.0 49.4L299.4 47.4L297.9 47.4L293.9 47.4L292.5 46.1L294.8 44.2L299.3 42.6L301.9 42.8L304.9 42.6L304.7 44.0L305.2 45.1L306.4 46.4L305.3 48.7L305.9 50.7L306.7 52.1M274.7 48.7L269.8 49.1L267.3 48.7L267.1 47.7L271.4 45.5L276.1 43.9L279.0 43.9L281.8 43.9L286.0 43.0L284.6 44.2L282.2 46.1L279.9 47.7L274.7 48.7M266.1 45.5L266.6 45.9L270.6 44.8L279.1 42.4L278.7 41.8L274.7 42.4L269.3 44.2L266.1 45.5M312.2 39.5L308.7 39.7L305.4 39.5L310.6 37.8L314.6 35.7L321.1 34.2L329.0 32.8L333.0 32.8L333.9 33.4L328.0 35.2L321.5 36.7L316.9 37.8L312.2 39.5M306.7 41.7L302.4 41.8L298.8 41.6L303.0 39.7L305.9 40.4L308.7 40.6L306.7 41.7M284.8 56.3L279.7 57.7L279.0 56.0L283.7 53.5L285.1 54.2L284.8 56.3M295.9 74.6L288.1 80.6L290.7 81.1L292.0 82.3L295.0 82.5L296.0 81.0L296.4 78.2L294.6 77.0L295.9 74.6M319.1 37.6L317.4 40.0L318.3 40.3L322.3 40.2L321.3 41.8L319.7 44.8L317.7 47.4L319.4 48.1L314.3 51.4L312.1 55.6L312.4 59.2L315.0 61.4L317.0 61.4L319.7 58.4L323.7 54.9L328.4 53.0L333.6 50.0L338.9 49.4L343.3 46.8L343.4 44.8L346.0 42.4L348.2 40.0L349.0 37.8L351.8 35.7L355.0 34.2L351.7 33.7L349.0 32.3L344.8 32.5L339.4 33.2L334.1 33.7L329.6 34.7L325.8 35.7L324.7 36.7L319.1 37.6M339.0 53.5L340.0 55.6L342.6 56.4L346.6 55.3L348.3 53.9L347.3 52.4L344.6 52.5L341.7 53.3L340.8 52.2L339.0 53.5M240.4 152.2L242.7 150.2L244.0 147.9L246.1 147.0L249.5 145.1L250.0 147.4L249.2 150.2L250.7 147.7L252.5 145.5L254.5 147.7L258.4 148.1L260.6 148.9L264.6 147.9L265.9 150.2L268.0 152.7L270.9 156.4L274.8 157.1L278.6 158.9L280.9 160.8L282.3 165.6L282.3 168.5L284.7 170.0L287.0 169.8L290.9 172.9L294.9 173.9L298.0 173.9L300.4 175.6L302.8 177.7L305.4 178.7L306.4 182.9L305.5 186.8L303.3 189.6L301.2 193.5L300.9 198.2L301.1 202.9L300.3 206.7L299.3 210.5L298.1 212.3L294.4 212.7L291.7 214.2L289.4 217.5L290.1 221.6L288.7 224.3L287.1 228.9L286.0 232.5L284.4 234.1L281.4 233.4L279.2 232.5L282.3 236.1L282.9 239.6L280.2 241.2L277.6 241.4L278.6 244.5L275.2 244.8L277.7 247.4L276.9 249.1L277.9 251.7L276.4 253.4L279.7 255.9L279.9 259.2L279.7 261.6L281.7 263.7L280.6 266.1L276.2 264.0L272.1 260.8L268.6 256.7L267.6 253.4L266.9 250.0L265.6 246.6L262.8 243.1L261.4 239.6L260.8 237.0L260.6 233.4L259.5 228.9L258.2 225.3L257.4 220.7L256.8 216.1L255.6 210.5L254.3 204.8L251.9 202.0L247.6 199.2L243.8 195.4L241.7 191.5L238.8 186.8L236.4 182.0L234.3 180.0L233.6 177.2L235.5 174.9L234.2 172.7L234.6 169.5L235.4 167.0L237.3 165.6L238.6 163.3L239.8 160.8L239.6 157.9L240.2 155.0L240.4 152.2M282.2 264.3L288.2 267.5L286.9 268.4L283.2 268.0L279.7 266.4L280.6 266.1L282.2 264.3M352.4 101.3L356.4 102.2L359.1 101.5L361.9 100.0L364.6 99.3L370.0 99.2L374.1 98.6L375.5 99.5L375.0 102.7L374.4 104.5L376.6 105.9L378.7 106.5L382.1 107.6L383.2 109.6L386.2 111.0L388.9 109.9L388.6 107.2L391.4 106.5L395.8 108.5L401.7 110.1L404.4 109.0L406.4 109.6L407.0 111.7L409.0 115.4L411.0 119.1L413.0 122.8L415.4 126.5L416.5 130.3L418.9 134.1L420.9 138.8L423.4 141.6L426.8 144.5L427.4 146.4L429.4 148.5L433.2 147.2L436.2 146.8L439.5 145.8L439.4 148.5L437.6 155.0L435.4 159.8L432.4 164.1L429.3 166.6L426.2 170.4L423.8 173.9L422.2 177.2L421.2 181.0L421.9 184.8L422.9 188.7L422.8 193.5L422.5 197.3L419.9 200.7L416.6 202.9L414.0 205.8L412.8 209.5L413.0 213.8L408.9 217.0L408.1 220.7L406.6 223.4L403.9 227.1L399.8 230.7L396.3 232.5L391.1 232.9L388.2 233.9L386.1 232.9L386.1 229.8L385.1 225.3L383.7 221.6L382.5 217.9L382.0 213.3L380.7 208.6L378.7 203.9L378.5 200.1L379.7 195.4L381.3 191.5L381.1 186.8L379.7 180.0L378.5 176.2L375.4 172.4L374.6 169.5L375.4 166.6L375.7 162.7L374.1 159.8L371.4 160.0L369.1 158.9L367.5 156.4L363.6 156.4L360.5 157.5L357.4 159.3L354.3 158.5L348.8 160.0L346.5 158.9L343.4 155.4L341.1 154.1L339.9 151.2L338.1 148.3L335.8 145.5L334.7 142.6L333.7 140.3L335.3 137.8L335.9 134.1L336.0 130.3L335.0 128.4L336.8 123.7L339.3 119.1L341.6 116.0L344.6 113.9L346.5 111.7L346.9 109.0L348.6 105.8L351.0 104.5L352.4 101.3M436.6 191.5L437.4 198.2L435.5 202.9L433.2 208.6L430.0 215.7L426.8 217.0L425.3 213.3L425.3 209.5L427.3 205.8L427.4 201.1L430.8 198.6L434.3 194.4L436.6 191.5M353.0 100.9L351.7 99.2L348.3 99.2L347.8 96.2L348.9 92.2L348.7 88.7L350.3 87.5L354.1 87.9L357.9 88.0L358.9 86.2L359.0 83.6L357.4 81.5L354.8 80.3L355.1 79.3L358.4 79.3L358.5 77.5L360.5 78.0L362.3 76.7L363.4 75.4L364.6 74.7L365.7 73.0L366.2 71.7L368.4 71.2L370.1 70.9L369.8 68.2L369.3 65.9L371.6 64.8L371.7 67.5L371.5 69.0L372.8 70.6L374.4 70.0L376.2 70.6L378.9 69.8L381.0 69.5L382.8 70.0L383.5 68.2L382.9 65.9L384.3 64.8L386.1 65.6L385.8 63.6L384.6 62.6L387.0 62.0L389.1 62.0L390.9 61.4L389.0 60.5L386.6 60.8L383.8 61.5L382.0 60.3L381.2 58.4L381.3 56.6L382.9 54.4L383.2 53.5L381.9 53.0L380.3 53.5L380.2 55.1L378.9 56.6L377.4 58.0L377.6 60.2L379.2 61.4L379.1 63.2L378.1 65.2L377.8 67.2L376.1 68.1L374.8 68.4L374.2 67.0L373.0 64.8L371.8 62.9L371.2 62.1L370.3 62.9L368.9 64.4L366.7 63.6L365.6 61.4L365.4 58.4L367.2 57.0L369.8 55.6L371.3 53.5L372.2 51.4L373.0 49.6L374.7 48.3L376.4 47.4L378.3 46.4L380.2 46.0L382.0 46.1L384.9 47.1L384.5 47.8L387.2 48.2L389.7 48.4L394.1 50.0L396.4 51.7L395.8 52.5L393.1 52.4L389.7 51.8L392.0 54.2L392.6 55.0L395.5 55.7L395.0 54.9L397.2 54.7L396.1 53.0L397.8 52.2L399.5 52.8L397.7 50.0L396.3 49.2L399.2 50.0L400.8 51.5L401.3 50.6L404.4 49.4L405.7 49.8L407.6 49.2L408.8 47.7L412.3 48.3L415.6 49.0L417.6 49.6L414.3 47.9L411.8 46.1L410.1 44.0L410.1 43.2L413.0 43.9L416.2 46.1L420.9 49.4L424.0 51.4L421.9 49.4L418.1 46.1L414.9 44.2L418.0 44.8L419.2 44.2L417.1 43.0L419.8 42.4L418.1 41.2L419.3 40.3L421.7 39.7L421.1 38.1L425.8 39.1L429.8 39.5L437.2 41.8L436.3 42.4L439.3 42.8L444.1 43.2L447.0 43.0L451.5 43.6L457.9 45.5L461.1 46.1L461.0 45.5L464.0 45.5L462.6 44.2L467.8 44.5L473.4 45.4L478.0 46.1L483.4 46.4L489.3 47.9L493.0 47.9L493.7 47.4L499.8 48.7L499.3 47.7L504.7 48.3L508.5 49.0M212.5 49.0L211.6 50.0L211.0 51.4L209.8 52.8L201.9 54.9L202.6 53.7L203.5 52.5L196.9 54.2M524.1 54.2L524.7 54.9L530.7 57.7L530.7 58.9L533.1 61.4L528.5 61.4L527.1 61.7L532.3 64.7L536.5 67.5L538.6 69.8L541.0 72.2L544.0 75.4L539.4 73.0L529.5 67.5L525.4 64.4L522.4 61.4L519.9 58.9L518.7 57.7L517.0 58.9L514.7 59.2L519.5 62.4L517.3 62.9L513.8 62.1L509.2 62.4L507.2 62.4L508.8 65.2L510.5 67.5L514.2 70.6L516.4 70.6L521.0 72.2L525.0 75.4L529.9 79.5L532.1 82.8L532.8 86.2L532.7 89.1L530.1 88.4L529.7 89.9L530.5 92.2L530.1 93.9L530.5 95.1L536.4 99.2L538.6 101.8L537.2 103.4L535.4 103.3L533.3 100.0L531.8 97.9L529.1 97.4L526.9 94.8L525.2 93.9L521.4 93.0L523.3 96.0L519.7 92.5L519.3 95.3L517.9 95.6L520.3 97.4L522.0 98.6L524.3 98.1L526.8 98.8L525.7 100.9L525.4 102.7L528.9 105.4L532.8 108.7L534.0 110.3L532.6 111.2L535.3 112.1L536.4 115.4L535.7 118.2L535.6 120.9L534.4 123.2L532.9 124.8L530.4 126.0L527.3 127.5L526.3 129.7L524.6 127.5L522.0 127.3L520.8 129.3L520.3 132.2L523.3 135.9L526.8 138.8L528.7 143.5L528.8 146.4L526.1 148.5L523.6 152.0L523.2 149.3L520.7 148.1L518.6 145.5L516.1 144.1L515.0 142.6L514.8 145.5L514.3 149.3L515.8 152.2L516.9 154.6L519.4 156.6L521.9 159.8L522.3 163.7L523.4 165.8L518.8 163.1L517.1 158.9L516.6 156.0L513.9 153.1L513.1 151.2L512.9 147.4L512.2 143.5L510.1 139.7L509.1 136.9L505.6 138.2L503.7 135.0L501.5 131.2L498.1 127.5L496.0 125.6L494.8 126.5L492.8 127.1L490.9 128.4L490.7 130.3L488.8 131.6L485.8 136.5L483.1 138.8L483.5 142.6L483.7 146.4L484.1 148.7L483.0 150.6L481.7 152.2L481.0 153.1L479.2 151.2L478.1 148.3L476.1 144.5L474.7 140.7L472.5 136.9L470.5 132.2L469.5 128.4L468.5 126.9L465.5 128.8L463.3 126.0L462.0 123.7L459.2 121.3L458.2 120.2L454.5 120.4L451.0 120.8L447.1 120.2L444.5 119.6L443.2 117.2L440.0 118.0L436.7 116.3L434.0 114.1L432.5 111.7L430.2 111.2L429.3 112.1L430.8 114.5L433.4 117.8L434.2 120.0L436.0 119.5L435.7 121.7L438.1 122.4L440.3 122.4L442.8 118.5L443.9 121.9L447.2 123.5L449.6 125.6L448.8 129.3L447.8 132.2L446.9 134.1L444.5 135.4L441.3 136.9L438.5 139.2L434.9 141.6L429.8 143.9L427.5 144.1L426.5 141.6L425.8 138.8L424.9 135.9L422.4 132.2L419.8 128.8L418.6 125.6L415.8 121.9L413.9 119.1L411.2 115.4L410.7 112.7L410.2 115.8L408.0 113.6L407.1 111.7L406.7 109.7L409.0 109.4L409.5 107.2L409.9 104.5L409.9 101.3L409.6 99.7L407.5 99.7L405.7 100.8L402.3 99.5L400.2 100.4L398.0 99.5L396.2 96.9L396.0 94.8L395.2 93.6L395.8 92.9L394.7 92.5L392.7 92.3L392.0 93.6L390.6 93.0L390.9 95.1L392.8 97.0L391.9 100.0L390.9 99.9L389.9 99.2L389.0 96.9L387.1 94.6L386.1 93.0L385.9 90.8L384.4 89.6L382.3 88.4L380.2 87.0L378.7 85.0L377.7 84.3L376.0 84.8L376.3 86.7L377.9 87.9L378.9 89.6L381.3 90.8L385.0 93.6L382.9 93.0L382.6 94.4L383.5 95.6L382.1 97.4L381.3 93.9L379.6 92.7L377.5 91.6L375.4 89.7L374.0 88.7L373.2 87.0L371.7 86.3L370.1 87.4L368.2 88.5L365.6 87.9L364.4 88.7L364.7 90.4L363.1 91.6L361.2 93.0L360.1 94.8L360.8 96.2L359.6 97.9L357.8 99.5L354.4 99.7L353.0 100.9M353.7 76.8L356.4 76.5L359.3 75.9L362.0 75.1L362.4 72.7L360.8 72.2L360.4 70.6L358.8 69.0L358.1 67.5L358.4 65.0L356.3 65.0L357.2 63.5L355.3 63.5L354.4 65.2L354.5 67.5L355.0 69.3L356.6 69.2L357.1 70.9L356.9 71.7L355.4 71.7L355.6 72.7L355.7 73.5L354.5 74.1L356.4 74.7L357.0 75.1L355.5 75.2L353.7 76.8M353.6 73.5L351.2 74.3L348.9 74.1L349.7 71.7L349.3 70.3L351.3 69.0L353.6 68.7L354.3 69.8L353.5 71.7L353.6 73.5M377.4 97.4L381.5 97.0L381.2 99.7L377.4 98.1L377.4 97.4M371.2 91.8L373.3 92.5L373.2 95.3L371.9 95.6L371.2 91.8M371.6 89.6L372.8 89.1L372.8 91.3L371.8 91.0L371.6 89.6M392.8 101.8L396.8 102.4L393.7 102.7L392.8 101.8M405.1 102.7L408.0 101.6L406.9 103.3L405.1 102.7M399.4 45.5L398.2 43.4L397.2 41.2L398.1 39.8L400.4 38.9L402.9 39.3L402.6 40.6L401.4 41.8L402.0 43.6L403.9 45.5L404.9 46.6L402.2 46.4L399.4 45.5M366.3 36.2L368.7 35.7L371.5 35.4L374.3 35.7L372.2 37.2L371.1 38.3L371.0 39.3L368.7 38.3L366.3 36.2M542.7 104.5L542.9 101.8L546.9 101.6L546.3 98.8L548.4 98.6L547.4 95.6L545.2 93.0L545.3 91.5L548.4 93.9L550.4 95.6L550.7 97.4L553.1 100.0L554.4 102.4L553.1 102.2L552.6 103.3L550.4 103.4L550.3 105.4L547.6 103.4L545.3 104.0L543.0 104.7L542.0 105.8L544.3 108.1L545.8 109.6L546.7 109.2L545.6 106.7L543.0 104.7M545.0 104.5L547.3 104.0L548.3 105.8L547.3 106.7L545.0 104.5M543.7 91.3L541.6 89.6L540.8 88.2L538.3 84.6L542.1 86.5L545.2 86.7L547.2 88.2L547.1 90.4L543.6 89.6L544.4 91.0L543.7 91.3M519.0 70.1L524.5 73.0L530.6 77.0L534.2 78.6L536.7 82.0L538.9 83.3L537.5 83.6L533.4 80.3L527.9 76.2L523.0 73.0L519.0 70.1M539.1 120.6L540.5 121.9L540.8 126.5L538.6 124.3L538.6 120.9L539.1 120.6M524.5 131.6L526.8 130.3L527.8 131.0L527.0 133.3L524.9 132.7L524.5 131.6M484.5 149.7L486.6 152.2L487.8 155.0L486.1 157.0L484.7 155.0L484.5 152.2L484.5 149.7M542.9 133.1L545.6 133.5L546.4 136.9L546.2 138.8L547.8 141.6L551.3 143.5L550.7 144.1L548.7 142.2L546.4 142.2L545.2 140.7L543.6 137.8L543.2 135.0L542.9 133.1M550.4 155.0L552.3 152.0L555.0 149.7L557.1 153.1L556.8 156.4L556.2 157.7L553.7 156.0L551.8 154.1L550.4 155.0M550.5 146.4L552.3 144.5L554.5 147.4L554.1 149.3L552.4 148.3L551.0 149.3L549.3 148.3L550.5 146.4M542.6 152.3L545.4 148.3L544.8 146.8L543.5 150.2L542.6 152.3M530.9 165.6L532.5 165.2L534.4 163.3L537.0 161.8L539.2 159.3L541.2 156.0L542.6 155.0L543.9 157.0L546.1 158.5L544.7 160.2L544.6 162.7L545.0 165.6L544.3 167.5L544.2 170.4L542.6 173.3L541.7 175.8L539.6 176.2L537.0 174.9L534.7 174.7L532.7 173.3L532.5 171.0L531.0 169.1L530.9 165.6M509.1 157.7L512.6 158.5L514.6 161.2L517.6 164.3L521.6 167.5L523.1 170.4L525.4 173.3L526.1 175.2L525.4 179.7L523.4 179.7L520.5 176.6L518.4 173.3L517.3 170.4L515.3 167.5L514.5 164.6L512.0 161.8L509.1 157.7M524.3 181.6L526.5 180.0L529.5 181.0L532.6 181.4L533.4 180.8L536.0 181.8L538.6 183.3L538.3 185.2L533.0 184.5L529.2 183.5L526.2 182.7L524.3 181.6M539.5 184.3L542.3 184.5L545.4 184.7L545.2 185.4L542.1 185.8L539.4 185.2L539.5 184.3M546.6 184.7L551.6 184.3L551.1 185.4L546.8 185.6L546.6 184.7M551.7 188.3L554.5 185.8L558.1 184.7L556.8 186.2L553.3 188.1L551.7 188.3M546.9 179.1L548.2 179.3L548.6 174.3L549.9 173.9L551.4 177.4L552.8 176.8L550.9 172.4L553.5 170.4L550.8 170.2L548.5 170.2L548.3 168.1L549.7 167.5L552.9 167.5L555.9 165.4L552.8 166.6L549.4 166.0L547.9 168.1L547.3 171.4L546.2 173.9L547.2 175.2L546.9 179.1M559.8 164.6L561.4 165.6L560.7 168.5L561.4 170.0L560.2 169.1L559.8 164.6M560.5 174.3L564.9 174.7L563.6 175.4L560.5 175.0L560.5 174.3M565.4 170.0L570.0 170.0L571.4 174.9L575.5 171.6L580.9 173.5L586.2 175.8L588.2 179.1L590.8 180.2L589.4 181.6L591.0 185.8L594.0 188.3L589.7 188.1L587.3 184.5L584.4 183.3L582.4 186.2L579.3 186.0L576.5 184.1L574.9 184.7L576.4 182.0L575.7 179.1L572.0 177.0L568.2 176.4L568.0 173.9L570.0 172.7L567.2 172.7L565.4 170.0M591.8 179.1L595.2 179.1L598.1 176.6L597.7 178.1L595.5 180.4L592.7 180.4L591.8 179.1M529.9 210.5L531.1 210.1L535.9 207.8L539.6 206.7L544.0 204.8L546.4 201.6L548.3 201.6L550.5 199.2L553.9 195.4L556.6 196.9L558.8 197.1L561.6 192.5L564.9 191.5L565.2 190.2L568.7 191.9L571.4 191.9L569.5 194.4L567.9 197.3L569.6 199.2L571.6 202.0L574.3 202.0L577.1 197.3L578.8 192.5L581.0 189.1L581.6 192.5L581.1 195.9L582.9 197.3L582.2 202.0L581.8 204.8L583.8 207.1L583.6 210.5L584.3 213.3L585.3 216.6L582.8 221.6L578.7 226.2L574.0 230.3L570.4 232.9L565.4 237.0L563.7 238.7L559.5 239.6L556.1 241.4L555.5 240.0L552.7 241.0L550.4 240.0L550.5 237.8L552.0 235.5L550.2 235.5L551.9 233.4L553.6 230.7L551.0 233.4L548.4 234.3L548.2 233.7L548.7 230.7L546.9 228.9L543.1 228.2L538.1 229.4L534.4 230.7L532.6 232.3L527.7 232.3L523.6 234.3L520.9 234.1L520.3 233.0L523.9 228.9L525.3 225.3L525.8 222.5L526.4 217.9L528.3 214.2L529.9 210.5M551.0 244.3L552.5 245.2L555.4 244.7L552.0 247.4L548.8 249.1L547.5 249.1L548.9 247.1L551.0 244.3M600.2 233.2L600.8 234.8L599.8 237.3L598.7 238.9L601.8 238.9L597.8 241.7L596.0 242.2L592.6 244.3L589.2 245.9L589.3 245.4L592.4 243.1L592.3 241.9L596.0 239.6L598.5 237.5L599.6 234.3L600.2 233.2M588.3 244.0L588.6 245.4L585.0 247.4L581.4 249.3L577.4 250.8L573.5 253.2L569.7 254.4L568.3 253.2L574.9 250.0L580.4 247.9L584.2 246.0L588.3 244.0M258.4 299.4L265.6 299.8L267.7 299.0L265.5 297.0L268.6 296.0L271.9 295.0L277.1 294.4L286.2 295.2L288.9 293.4L295.6 293.1L303.2 293.4L303.8 291.5L303.3 288.3L302.6 285.6L302.3 282.8L304.0 280.7L306.6 280.4L306.2 282.1L305.5 284.2L307.5 287.0L312.1 289.6L316.0 292.8L319.3 295.2L321.6 296.4L331.4 298.9L337.6 299.2L339.9 298.7L341.5 297.0L343.3 294.6L346.2 293.4L349.6 292.8L352.8 290.9L356.6 290.2L360.5 288.9L364.5 289.6L368.5 289.3L372.6 288.9L376.4 289.6L380.3 289.6L385.0 288.3L387.9 287.6L391.1 288.9L393.7 287.6L398.9 286.3L404.3 284.9L408.6 284.0L410.4 284.9L411.9 286.0L415.9 286.3L418.9 287.4L418.5 288.9L425.5 287.4L431.4 285.6L437.5 284.9L441.5 284.6L450.3 283.5L452.9 284.6L458.0 284.2L461.2 284.9L464.7 285.3L470.5 284.6L475.8 284.2L480.8 284.0L483.1 284.9L485.8 285.6L485.6 287.4L487.2 288.3L487.4 289.6L488.5 290.5L488.9 291.5L482.3 293.4L470.4 295.8L457.1 298.7L456.9 299.2L460.9 299.2L462.6 299.4M233.5 126.9L237.9 124.7L241.6 124.7L245.3 127.5L248.9 129.9L243.8 130.5L243.3 129.3L240.9 127.1L238.3 126.0L235.0 126.9L233.5 126.9M250.1 130.8L252.1 130.5L255.1 130.7L256.9 132.7L254.5 133.5L252.0 134.6L250.7 133.7L247.9 133.3L250.4 132.5L250.1 130.8M242.0 133.3L244.8 134.1L242.9 134.4L242.0 133.3M258.8 133.3L261.0 133.5L260.4 134.1L258.6 134.1L258.8 133.3M209.8 75.7L211.8 77.0L211.1 79.5L209.6 79.1L208.8 77.0L209.8 75.7M125.9 129.9L127.1 130.7L125.3 132.2L125.9 129.9M290.1 44.6L295.2 43.9L298.1 42.4L295.0 42.4L290.1 44.6M283.4 45.5L287.7 45.2L293.1 42.6L290.3 42.6L283.4 45.5M283.7 41.0L286.2 41.8L290.7 41.2L293.4 40.0L291.8 39.7L288.7 39.5L283.7 41.0M292.6 40.8L295.6 41.2L299.9 39.5L296.8 39.5L292.6 40.8M306.3 37.5L311.4 37.2L314.7 36.2L316.7 34.7L311.6 35.7L306.3 37.5M279.6 48.7L281.8 49.1L283.9 47.7L281.5 47.7L279.6 48.7M596.5 173.9L598.6 176.2L601.7 179.1L604.1 182.0L607.5 184.5L609.3 187.0L611.6 189.1M607.1 207.1L609.1 211.0M615.8 197.3L615.7 200.1M629.8 202.0L631.7 202.2L630.2 203.3L629.8 202.0M289.5 262.4L293.0 262.4L292.6 263.7L289.5 262.4M317.9 266.4L320.5 267.4M314.5 276.5L315.6 276.7M443.2 258.7L444.5 259.2"/><path fill="#fff" shape-rendering="crispEdges" d="M302.2 280.9L306.7 280L310.6 292.4L300.4 293.3z"/>
</g>
<rect x="120.5" y="376.5" width="480" height="27" fill="url(#cb)" stroke="#000" stroke-width="1"/>
<g stroke="#000" stroke-width="1"><line x1="120.5" y1="377" x2="120.5" y2="380"/><line x1="120.5" y1="400.5" x2="120.5" y2="403.5"/><line x1="144.5" y1="377" x2="144.5" y2="380"/><line x1="144.5" y1="400.5" x2="144.5" y2="403.5"/><line x1="168.5" y1="377" x2="168.5" y2="380"/><line x1="168.5" y1="400.5" x2="168.5" y2="403.5"/><line x1="192.5" y1="377" x2="192.5" y2="380"/><line x1="192.5" y1="400.5" x2="192.5" y2="403.5"/><line x1="216.5" y1="377" x2="216.5" y2="380"/><line x1="216.5" y1="400.5" x2="216.5" y2="403.5"/><line x1="240.5" y1="377" x2="240.5" y2="380"/><line x1="240.5" y1="400.5" x2="240.5" y2="403.5"/><line x1="264.5" y1="377" x2="264.5" y2="380"/><line x1="264.5" y1="400.5" x2="264.5" y2="403.5"/><line x1="288.5" y1="377" x2="288.5" y2="380"/><line x1="288.5" y1="400.5" x2="288.5" y2="403.5"/><line x1="312.5" y1="377" x2="312.5" y2="380"/><line x1="312.5" y1="400.5" x2="312.5" y2="403.5"/><line x1="336.5" y1="377" x2="336.5" y2="380"/><line x1="336.5" y1="400.5" x2="336.5" y2="403.5"/><line x1="360.5" y1="377" x2="360.5" y2="380"/><line x1="360.5" y1="400.5" x2="360.5" y2="403.5"/><line x1="384.5" y1="377" x2="384.5" y2="380"/><line x1="384.5" y1="400.5" x2="384.5" y2="403.5"/><line x1="408.5" y1="377" x2="408.5" y2="380"/><line x1="408.5" y1="400.5" x2="408.5" y2="403.5"/><line x1="432.5" y1="377" x2="432.5" y2="380"/><line x1="432.5" y1="400.5" x2="432.5" y2="403.5"/><line x1="456.5" y1="377" x2="456.5" y2="380"/><line x1="456.5" y1="400.5" x2="456.5" y2="403.5"/><line x1="480.5" y1="377" x2="480.5" y2="380"/><line x1="480.5" y1="400.5" x2="480.5" y2="403.5"/><line x1="504.5" y1="377" x2="504.5" y2="380"/><line x1="504.5" y1="400.5" x2="504.5" y2="403.5"/><line x1="528.5" y1="377" x2="528.5" y2="380"/><line x1="528.5" y1="400.5" x2="528.5" y2="403.5"/><line x1="552.5" y1="377" x2="552.5" y2="380"/><line x1="552.5" y1="400.5" x2="552.5" y2="403.5"/><line x1="576.5" y1="377" x2="576.5" y2="380"/><line x1="576.5" y1="400.5" x2="576.5" y2="403.5"/><line x1="600.5" y1="377" x2="600.5" y2="380"/><line x1="600.5" y1="400.5" x2="600.5" y2="403.5"/></g>
<g stroke="#6e6e6e" fill="none" stroke-width="1">
<line x1="510" y1="327.5" x2="653" y2="327.5"/>
<circle cx="642.5" cy="327.5" r="4"/>
<path d="M648.5 312.5 C648.5 309.5 645 309.5 644.5 313 C643.5 320 643.5 334 642.5 341 C642 345.5 638 345.5 638 342.5"/>
</g>
</svg>
<div class="t" id="title">MSU/AMSU Channel TMT Brightness Temperature Anomaly, February, 2009</div>
<div class="t" id="wm"><span>AGif - UNREGISTERED</span></div>
<div class="t rs" style="top:313px">Remote Sensing Systems</div>
<div class="t rs" style="top:329px;letter-spacing:0.8px">www.remss.com</div>
<div class="t" id="cbl">Brightness Temperature Anomaly (K)</div>
<div class="t tk" style="left:147px">-4</div>
<div class="t tk" style="left:244px">-2</div>
<div class="t tk" style="left:340px">0</div>
<div class="t tk" style="left:436px">2</div>
<div class="t tk" style="left:532px">4</div>
</body></html>
